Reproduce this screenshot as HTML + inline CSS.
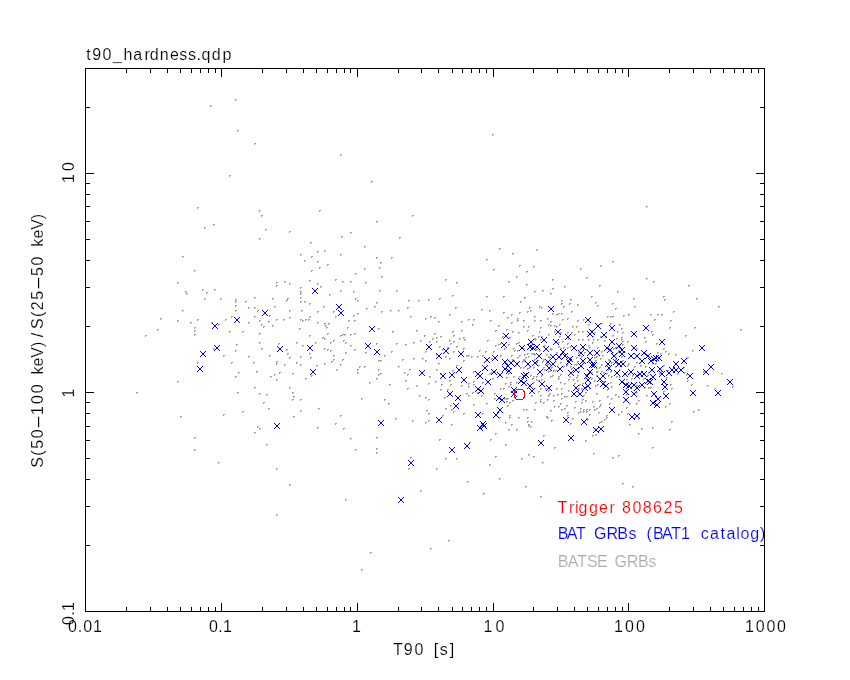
<!DOCTYPE html><html><head><meta charset="utf-8"><title>t90_hardness.qdp</title>
<style>html,body{margin:0;padding:0;background:#fff;overflow:hidden}svg{display:block}text{font-family:"Liberation Sans",sans-serif;font-size:16px;stroke:#fff;stroke-width:.15px;mix-blend-mode:multiply}</style></head><body>
<svg width="850" height="680" viewBox="0 0 850 680">
<rect width="850" height="680" fill="#fff"/>
<path d="M136 392h2v1h-1v1h-1zM145 335h2v1h-1v1h-1zM157 329h2v1h-1v1h-1zM160 318h2v1h-1v1h-1zM177 282h2v1h-1v1h-1zM177 320h2v1h-1v1h-1zM177 381h2v1h-1v1h-1zM180 416h2v1h-1v1h-1zM182 256h2v1h-1v1h-1zM182 310h2v1h-1v1h-1zM185 291h2v1h-1v1h-1zM186 293h2v1h-1v1h-1zM190 322h2v1h-1v1h-1zM194 270h2v1h-1v1h-1zM194 327h2v1h-1v1h-1zM194 330h2v1h-1v1h-1zM194 334h2v1h-1v1h-1zM194 437h2v1h-1v1h-1zM194 449h2v1h-1v1h-1zM197 207h2v1h-1v1h-1zM197 319h2v1h-1v1h-1zM197 362h2v1h-1v1h-1zM202 289h2v1h-1v1h-1zM204 227h2v1h-1v1h-1zM204 298h2v1h-1v1h-1zM206 292h2v1h-1v1h-1zM210 105h2v1h-1v1h-1zM211 322h2v1h-1v1h-1zM213 224h2v1h-1v1h-1zM213 348h2v1h-1v1h-1zM214 289h2v1h-1v1h-1zM218 324h2v1h-1v1h-1zM218 462h2v1h-1v1h-1zM220 298h2v1h-1v1h-1zM223 355h2v1h-1v1h-1zM223 414h2v1h-1v1h-1zM225 319h2v1h-1v1h-1zM229 175h2v1h-1v1h-1zM229 331h2v1h-1v1h-1zM231 316h2v1h-1v1h-1zM231 362h2v1h-1v1h-1zM235 99h2v1h-1v1h-1zM235 299h2v1h-1v1h-1zM235 301h2v1h-1v1h-1zM235 305h2v1h-1v1h-1zM235 310h2v1h-1v1h-1zM235 350h2v1h-1v1h-1zM235 376h2v1h-1v1h-1zM236 344h2v1h-1v1h-1zM237 130h2v1h-1v1h-1zM237 392h2v1h-1v1h-1zM238 372h2v1h-1v1h-1zM242 331h2v1h-1v1h-1zM242 411h2v1h-1v1h-1zM245 301h2v1h-1v1h-1zM248 307h2v1h-1v1h-1zM248 322h2v1h-1v1h-1zM248 356h2v1h-1v1h-1zM253 362h2v1h-1v1h-1zM254 143h2v1h-1v1h-1zM254 297h2v1h-1v1h-1zM254 307h2v1h-1v1h-1zM254 316h2v1h-1v1h-1zM254 387h2v1h-1v1h-1zM254 432h2v1h-1v1h-1zM256 371h2v1h-1v1h-1zM257 310h2v1h-1v1h-1zM257 426h2v1h-1v1h-1zM259 210h2v1h-1v1h-1zM259 238h2v1h-1v1h-1zM259 320h2v1h-1v1h-1zM259 333h2v1h-1v1h-1zM259 342h2v1h-1v1h-1zM259 393h2v1h-1v1h-1zM259 428h2v1h-1v1h-1zM261 215h2v1h-1v1h-1zM261 324h2v1h-1v1h-1zM261 348h2v1h-1v1h-1zM263 326h2v1h-1v1h-1zM263 402h2v1h-1v1h-1zM265 229h2v1h-1v1h-1zM266 394h2v1h-1v1h-1zM266 444h2v1h-1v1h-1zM268 321h2v1h-1v1h-1zM268 408h2v1h-1v1h-1zM269 315h2v1h-1v1h-1zM269 355h2v1h-1v1h-1zM270 376h2v1h-1v1h-1zM272 298h2v1h-1v1h-1zM272 325h2v1h-1v1h-1zM274 306h2v1h-1v1h-1zM274 374h2v1h-1v1h-1zM276 282h2v1h-1v1h-1zM276 285h2v1h-1v1h-1zM276 319h2v1h-1v1h-1zM276 361h2v1h-1v1h-1zM276 363h2v1h-1v1h-1zM276 379h2v1h-1v1h-1zM276 468h2v1h-1v1h-1zM276 514h2v1h-1v1h-1zM278 343h2v1h-1v1h-1zM279 372h2v1h-1v1h-1zM283 319h2v1h-1v1h-1zM284 281h2v1h-1v1h-1zM284 364h2v1h-1v1h-1zM286 300h2v1h-1v1h-1zM286 349h2v1h-1v1h-1zM287 298h2v1h-1v1h-1zM287 353h2v1h-1v1h-1zM289 231h2v1h-1v1h-1zM289 283h2v1h-1v1h-1zM289 310h2v1h-1v1h-1zM289 317h2v1h-1v1h-1zM289 357h2v1h-1v1h-1zM289 387h2v1h-1v1h-1zM289 484h2v1h-1v1h-1zM292 373h2v1h-1v1h-1zM292 392h2v1h-1v1h-1zM292 399h2v1h-1v1h-1zM293 396h2v1h-1v1h-1zM293 416h2v1h-1v1h-1zM296 342h2v1h-1v1h-1zM296 362h2v1h-1v1h-1zM299 328h2v1h-1v1h-1zM300 254h2v1h-1v1h-1zM300 287h2v1h-1v1h-1zM300 291h2v1h-1v1h-1zM300 293h2v1h-1v1h-1zM300 297h2v1h-1v1h-1zM300 301h2v1h-1v1h-1zM300 319h2v1h-1v1h-1zM300 356h2v1h-1v1h-1zM300 364h2v1h-1v1h-1zM300 399h2v1h-1v1h-1zM300 410h2v1h-1v1h-1zM301 310h2v1h-1v1h-1zM302 320h2v1h-1v1h-1zM302 345h2v1h-1v1h-1zM304 260h2v1h-1v1h-1zM304 301h2v1h-1v1h-1zM305 319h2v1h-1v1h-1zM305 378h2v1h-1v1h-1zM308 319h2v1h-1v1h-1zM309 280h2v1h-1v1h-1zM309 303h2v1h-1v1h-1zM309 316h2v1h-1v1h-1zM309 335h2v1h-1v1h-1zM309 353h2v1h-1v1h-1zM310 242h2v1h-1v1h-1zM310 357h2v1h-1v1h-1zM311 256h2v1h-1v1h-1zM311 270h2v1h-1v1h-1zM311 375h2v1h-1v1h-1zM315 342h2v1h-1v1h-1zM316 365h2v1h-1v1h-1zM317 251h2v1h-1v1h-1zM317 261h2v1h-1v1h-1zM317 283h2v1h-1v1h-1zM317 311h2v1h-1v1h-1zM317 322h2v1h-1v1h-1zM317 427h2v1h-1v1h-1zM318 408h2v1h-1v1h-1zM319 210h2v1h-1v1h-1zM319 267h2v1h-1v1h-1zM320 286h2v1h-1v1h-1zM322 337h2v1h-1v1h-1zM323 306h2v1h-1v1h-1zM324 250h2v1h-1v1h-1zM324 323h2v1h-1v1h-1zM324 338h2v1h-1v1h-1zM324 348h2v1h-1v1h-1zM324 363h2v1h-1v1h-1zM325 325h2v1h-1v1h-1zM326 327h2v1h-1v1h-1zM327 264h2v1h-1v1h-1zM327 333h2v1h-1v1h-1zM327 349h2v1h-1v1h-1zM328 323h2v1h-1v1h-1zM329 294h2v1h-1v1h-1zM330 342h2v1h-1v1h-1zM330 350h2v1h-1v1h-1zM331 361h2v1h-1v1h-1zM333 311h2v1h-1v1h-1zM333 340h2v1h-1v1h-1zM333 355h2v1h-1v1h-1zM333 359h2v1h-1v1h-1zM335 279h2v1h-1v1h-1zM335 316h2v1h-1v1h-1zM335 423h2v1h-1v1h-1zM336 369h2v1h-1v1h-1zM340 154h2v1h-1v1h-1zM340 254h2v1h-1v1h-1zM340 290h2v1h-1v1h-1zM340 335h2v1h-1v1h-1zM340 364h2v1h-1v1h-1zM340 415h2v1h-1v1h-1zM341 236h2v1h-1v1h-1zM342 281h2v1h-1v1h-1zM342 334h2v1h-1v1h-1zM342 359h2v1h-1v1h-1zM343 340h2v1h-1v1h-1zM343 428h2v1h-1v1h-1zM344 334h2v1h-1v1h-1zM345 342h2v1h-1v1h-1zM345 352h2v1h-1v1h-1zM345 499h2v1h-1v1h-1zM347 327h2v1h-1v1h-1zM348 320h2v1h-1v1h-1zM350 232h2v1h-1v1h-1zM350 281h2v1h-1v1h-1zM350 334h2v1h-1v1h-1zM350 345h2v1h-1v1h-1zM350 438h2v1h-1v1h-1zM353 291h2v1h-1v1h-1zM353 315h2v1h-1v1h-1zM354 320h2v1h-1v1h-1zM354 333h2v1h-1v1h-1zM354 349h2v1h-1v1h-1zM355 273h2v1h-1v1h-1zM355 298h2v1h-1v1h-1zM355 449h2v1h-1v1h-1zM357 300h2v1h-1v1h-1zM357 313h2v1h-1v1h-1zM357 369h2v1h-1v1h-1zM357 372h2v1h-1v1h-1zM359 366h2v1h-1v1h-1zM361 398h2v1h-1v1h-1zM361 569h2v1h-1v1h-1zM364 246h2v1h-1v1h-1zM364 268h2v1h-1v1h-1zM364 366h2v1h-1v1h-1zM365 282h2v1h-1v1h-1zM365 352h2v1h-1v1h-1zM366 308h2v1h-1v1h-1zM369 382h2v1h-1v1h-1zM370 552h2v1h-1v1h-1zM371 181h2v1h-1v1h-1zM374 306h2v1h-1v1h-1zM376 221h2v1h-1v1h-1zM376 257h2v1h-1v1h-1zM376 302h2v1h-1v1h-1zM376 343h2v1h-1v1h-1zM376 378h2v1h-1v1h-1zM376 437h2v1h-1v1h-1zM376 448h2v1h-1v1h-1zM376 452h2v1h-1v1h-1zM378 328h2v1h-1v1h-1zM378 360h2v1h-1v1h-1zM378 369h2v1h-1v1h-1zM378 374h2v1h-1v1h-1zM379 267h2v1h-1v1h-1zM379 290h2v1h-1v1h-1zM380 262h2v1h-1v1h-1zM380 360h2v1h-1v1h-1zM380 373h2v1h-1v1h-1zM381 276h2v1h-1v1h-1zM381 311h2v1h-1v1h-1zM384 355h2v1h-1v1h-1zM384 399h2v1h-1v1h-1zM388 403h2v1h-1v1h-1zM389 384h2v1h-1v1h-1zM390 310h2v1h-1v1h-1zM391 257h2v1h-1v1h-1zM391 351h2v1h-1v1h-1zM392 331h2v1h-1v1h-1zM395 418h2v1h-1v1h-1zM396 290h2v1h-1v1h-1zM396 343h2v1h-1v1h-1zM398 310h2v1h-1v1h-1zM398 366h2v1h-1v1h-1zM399 237h2v1h-1v1h-1zM402 359h2v1h-1v1h-1zM404 372h2v1h-1v1h-1zM405 344h2v1h-1v1h-1zM405 380h2v1h-1v1h-1zM407 307h2v1h-1v1h-1zM407 374h2v1h-1v1h-1zM407 388h2v1h-1v1h-1zM408 300h2v1h-1v1h-1zM408 468h2v1h-1v1h-1zM409 369h2v1h-1v1h-1zM410 316h2v1h-1v1h-1zM410 457h2v1h-1v1h-1zM412 215h2v1h-1v1h-1zM412 420h2v1h-1v1h-1zM413 342h2v1h-1v1h-1zM413 358h2v1h-1v1h-1zM416 330h2v1h-1v1h-1zM416 385h2v1h-1v1h-1zM418 300h2v1h-1v1h-1zM419 395h2v1h-1v1h-1zM420 340h2v1h-1v1h-1zM420 490h2v1h-1v1h-1zM422 358h2v1h-1v1h-1zM424 335h2v1h-1v1h-1zM425 318h2v1h-1v1h-1zM425 351h2v1h-1v1h-1zM425 360h2v1h-1v1h-1zM425 397h2v1h-1v1h-1zM425 422h2v1h-1v1h-1zM426 410h2v1h-1v1h-1zM428 299h2v1h-1v1h-1zM428 383h2v1h-1v1h-1zM428 399h2v1h-1v1h-1zM428 413h2v1h-1v1h-1zM428 420h2v1h-1v1h-1zM429 341h2v1h-1v1h-1zM429 376h2v1h-1v1h-1zM430 316h2v1h-1v1h-1zM430 548h2v1h-1v1h-1zM432 338h2v1h-1v1h-1zM434 317h2v1h-1v1h-1zM434 333h2v1h-1v1h-1zM435 381h2v1h-1v1h-1zM436 337h2v1h-1v1h-1zM436 341h2v1h-1v1h-1zM436 354h2v1h-1v1h-1zM436 369h2v1h-1v1h-1zM436 468h2v1h-1v1h-1zM438 321h2v1h-1v1h-1zM438 363h2v1h-1v1h-1zM439 298h2v1h-1v1h-1zM439 346h2v1h-1v1h-1zM439 439h2v1h-1v1h-1zM440 336h2v1h-1v1h-1zM440 373h2v1h-1v1h-1zM440 389h2v1h-1v1h-1zM441 384h2v1h-1v1h-1zM442 349h2v1h-1v1h-1zM442 415h2v1h-1v1h-1zM444 397h2v1h-1v1h-1zM445 279h2v1h-1v1h-1zM445 356h2v1h-1v1h-1zM445 408h2v1h-1v1h-1zM445 458h2v1h-1v1h-1zM447 347h2v1h-1v1h-1zM447 389h2v1h-1v1h-1zM448 540h2v1h-1v1h-1zM449 314h2v1h-1v1h-1zM449 340h2v1h-1v1h-1zM449 358h2v1h-1v1h-1zM449 380h2v1h-1v1h-1zM450 343h2v1h-1v1h-1zM450 384h2v1h-1v1h-1zM450 405h2v1h-1v1h-1zM451 409h2v1h-1v1h-1zM451 424h2v1h-1v1h-1zM452 295h2v1h-1v1h-1zM452 331h2v1h-1v1h-1zM452 370h2v1h-1v1h-1zM453 335h2v1h-1v1h-1zM453 341h2v1h-1v1h-1zM453 351h2v1h-1v1h-1zM453 411h2v1h-1v1h-1zM455 307h2v1h-1v1h-1zM456 282h2v1h-1v1h-1zM456 346h2v1h-1v1h-1zM456 365h2v1h-1v1h-1zM456 458h2v1h-1v1h-1zM459 338h2v1h-1v1h-1zM461 321h2v1h-1v1h-1zM461 330h2v1h-1v1h-1zM461 385h2v1h-1v1h-1zM463 337h2v1h-1v1h-1zM463 348h2v1h-1v1h-1zM463 360h2v1h-1v1h-1zM463 413h2v1h-1v1h-1zM464 339h2v1h-1v1h-1zM466 355h2v1h-1v1h-1zM466 393h2v1h-1v1h-1zM467 481h2v1h-1v1h-1zM468 319h2v1h-1v1h-1zM468 355h2v1h-1v1h-1zM468 383h2v1h-1v1h-1zM468 386h2v1h-1v1h-1zM468 395h2v1h-1v1h-1zM469 442h2v1h-1v1h-1zM471 356h2v1h-1v1h-1zM472 324h2v1h-1v1h-1zM472 392h2v1h-1v1h-1zM473 319h2v1h-1v1h-1zM473 371h2v1h-1v1h-1zM473 381h2v1h-1v1h-1zM473 384h2v1h-1v1h-1zM473 404h2v1h-1v1h-1zM477 356h2v1h-1v1h-1zM477 392h2v1h-1v1h-1zM479 350h2v1h-1v1h-1zM481 309h2v1h-1v1h-1zM481 395h2v1h-1v1h-1zM482 355h2v1h-1v1h-1zM482 382h2v1h-1v1h-1zM482 413h2v1h-1v1h-1zM483 493h2v1h-1v1h-1zM485 351h2v1h-1v1h-1zM486 259h2v1h-1v1h-1zM486 296h2v1h-1v1h-1zM486 403h2v1h-1v1h-1zM487 340h2v1h-1v1h-1zM489 310h2v1h-1v1h-1zM489 373h2v1h-1v1h-1zM489 464h2v1h-1v1h-1zM490 320h2v1h-1v1h-1zM490 439h2v1h-1v1h-1zM491 358h2v1h-1v1h-1zM491 372h2v1h-1v1h-1zM492 134h2v1h-1v1h-1zM492 378h2v1h-1v1h-1zM493 269h2v1h-1v1h-1zM493 351h2v1h-1v1h-1zM494 371h2v1h-1v1h-1zM494 393h2v1h-1v1h-1zM494 398h2v1h-1v1h-1zM495 330h2v1h-1v1h-1zM495 345h2v1h-1v1h-1zM495 433h2v1h-1v1h-1zM495 456h2v1h-1v1h-1zM498 325h2v1h-1v1h-1zM498 344h2v1h-1v1h-1zM499 248h2v1h-1v1h-1zM499 417h2v1h-1v1h-1zM499 478h2v1h-1v1h-1zM500 343h2v1h-1v1h-1zM500 355h2v1h-1v1h-1zM500 388h2v1h-1v1h-1zM502 336h2v1h-1v1h-1zM503 296h2v1h-1v1h-1zM503 312h2v1h-1v1h-1zM503 388h2v1h-1v1h-1zM504 348h2v1h-1v1h-1zM504 398h2v1h-1v1h-1zM505 383h2v1h-1v1h-1zM505 422h2v1h-1v1h-1zM505 444h2v1h-1v1h-1zM506 329h2v1h-1v1h-1zM506 366h2v1h-1v1h-1zM506 377h2v1h-1v1h-1zM506 398h2v1h-1v1h-1zM506 401h2v1h-1v1h-1zM507 317h2v1h-1v1h-1zM507 398h2v1h-1v1h-1zM507 405h2v1h-1v1h-1zM508 281h2v1h-1v1h-1zM508 344h2v1h-1v1h-1zM508 373h2v1h-1v1h-1zM508 386h2v1h-1v1h-1zM508 429h2v1h-1v1h-1zM509 337h2v1h-1v1h-1zM509 402h2v1h-1v1h-1zM509 415h2v1h-1v1h-1zM509 417h2v1h-1v1h-1zM510 382h2v1h-1v1h-1zM510 384h2v1h-1v1h-1zM511 314h2v1h-1v1h-1zM511 322h2v1h-1v1h-1zM511 355h2v1h-1v1h-1zM511 424h2v1h-1v1h-1zM512 253h2v1h-1v1h-1zM512 331h2v1h-1v1h-1zM512 359h2v1h-1v1h-1zM512 400h2v1h-1v1h-1zM513 348h2v1h-1v1h-1zM513 360h2v1h-1v1h-1zM513 376h2v1h-1v1h-1zM514 350h2v1h-1v1h-1zM516 276h2v1h-1v1h-1zM516 343h2v1h-1v1h-1zM516 382h2v1h-1v1h-1zM516 429h2v1h-1v1h-1zM517 318h2v1h-1v1h-1zM517 320h2v1h-1v1h-1zM517 350h2v1h-1v1h-1zM517 357h2v1h-1v1h-1zM517 362h2v1h-1v1h-1zM518 332h2v1h-1v1h-1zM518 342h2v1h-1v1h-1zM518 417h2v1h-1v1h-1zM519 265h2v1h-1v1h-1zM519 312h2v1h-1v1h-1zM519 355h2v1h-1v1h-1zM519 376h2v1h-1v1h-1zM520 301h2v1h-1v1h-1zM520 367h2v1h-1v1h-1zM521 458h2v1h-1v1h-1zM522 361h2v1h-1v1h-1zM523 320h2v1h-1v1h-1zM523 326h2v1h-1v1h-1zM523 348h2v1h-1v1h-1zM523 359h2v1h-1v1h-1zM523 367h2v1h-1v1h-1zM523 397h2v1h-1v1h-1zM523 409h2v1h-1v1h-1zM524 297h2v1h-1v1h-1zM524 354h2v1h-1v1h-1zM524 360h2v1h-1v1h-1zM525 357h2v1h-1v1h-1zM525 486h2v1h-1v1h-1zM526 271h2v1h-1v1h-1zM526 284h2v1h-1v1h-1zM526 409h2v1h-1v1h-1zM527 311h2v1h-1v1h-1zM527 330h2v1h-1v1h-1zM527 353h2v1h-1v1h-1zM527 368h2v1h-1v1h-1zM527 417h2v1h-1v1h-1zM527 421h2v1h-1v1h-1zM528 326h2v1h-1v1h-1zM528 343h2v1h-1v1h-1zM528 356h2v1h-1v1h-1zM528 424h2v1h-1v1h-1zM528 425h2v1h-1v1h-1zM528 454h2v1h-1v1h-1zM529 307h2v1h-1v1h-1zM529 367h2v1h-1v1h-1zM530 310h2v1h-1v1h-1zM530 375h2v1h-1v1h-1zM530 426h2v1h-1v1h-1zM531 353h2v1h-1v1h-1zM531 395h2v1h-1v1h-1zM531 421h2v1h-1v1h-1zM532 335h2v1h-1v1h-1zM532 378h2v1h-1v1h-1zM533 266h2v1h-1v1h-1zM533 353h2v1h-1v1h-1zM533 367h2v1h-1v1h-1zM533 376h2v1h-1v1h-1zM533 382h2v1h-1v1h-1zM533 456h2v1h-1v1h-1zM534 291h2v1h-1v1h-1zM534 316h2v1h-1v1h-1zM534 320h2v1h-1v1h-1zM534 338h2v1h-1v1h-1zM534 354h2v1h-1v1h-1zM534 359h2v1h-1v1h-1zM534 409h2v1h-1v1h-1zM535 339h2v1h-1v1h-1zM535 402h2v1h-1v1h-1zM536 249h2v1h-1v1h-1zM536 349h2v1h-1v1h-1zM536 362h2v1h-1v1h-1zM536 376h2v1h-1v1h-1zM536 379h2v1h-1v1h-1zM537 360h2v1h-1v1h-1zM538 336h2v1h-1v1h-1zM538 365h2v1h-1v1h-1zM538 380h2v1h-1v1h-1zM538 391h2v1h-1v1h-1zM539 306h2v1h-1v1h-1zM539 331h2v1h-1v1h-1zM539 350h2v1h-1v1h-1zM540 320h2v1h-1v1h-1zM540 327h2v1h-1v1h-1zM540 339h2v1h-1v1h-1zM540 388h2v1h-1v1h-1zM540 395h2v1h-1v1h-1zM540 399h2v1h-1v1h-1zM540 401h2v1h-1v1h-1zM540 496h2v1h-1v1h-1zM541 307h2v1h-1v1h-1zM541 336h2v1h-1v1h-1zM541 375h2v1h-1v1h-1zM541 379h2v1h-1v1h-1zM542 290h2v1h-1v1h-1zM542 361h2v1h-1v1h-1zM542 462h2v1h-1v1h-1zM543 359h2v1h-1v1h-1zM543 367h2v1h-1v1h-1zM543 402h2v1h-1v1h-1zM543 435h2v1h-1v1h-1zM544 345h2v1h-1v1h-1zM544 369h2v1h-1v1h-1zM545 388h2v1h-1v1h-1zM546 354h2v1h-1v1h-1zM546 362h2v1h-1v1h-1zM546 416h2v1h-1v1h-1zM547 318h2v1h-1v1h-1zM547 364h2v1h-1v1h-1zM547 399h2v1h-1v1h-1zM547 417h2v1h-1v1h-1zM548 324h2v1h-1v1h-1zM548 334h2v1h-1v1h-1zM548 356h2v1h-1v1h-1zM548 371h2v1h-1v1h-1zM548 390h2v1h-1v1h-1zM548 395h2v1h-1v1h-1zM549 357h2v1h-1v1h-1zM549 393h2v1h-1v1h-1zM550 293h2v1h-1v1h-1zM550 321h2v1h-1v1h-1zM550 325h2v1h-1v1h-1zM550 348h2v1h-1v1h-1zM550 370h2v1h-1v1h-1zM550 376h2v1h-1v1h-1zM550 410h2v1h-1v1h-1zM551 349h2v1h-1v1h-1zM551 367h2v1h-1v1h-1zM551 420h2v1h-1v1h-1zM552 279h2v1h-1v1h-1zM552 288h2v1h-1v1h-1zM552 313h2v1h-1v1h-1zM552 375h2v1h-1v1h-1zM553 370h2v1h-1v1h-1zM553 395h2v1h-1v1h-1zM553 400h2v1h-1v1h-1zM554 325h2v1h-1v1h-1zM554 331h2v1h-1v1h-1zM554 406h2v1h-1v1h-1zM554 447h2v1h-1v1h-1zM555 359h2v1h-1v1h-1zM555 370h2v1h-1v1h-1zM556 314h2v1h-1v1h-1zM556 326h2v1h-1v1h-1zM556 352h2v1h-1v1h-1zM556 388h2v1h-1v1h-1zM557 370h2v1h-1v1h-1zM557 394h2v1h-1v1h-1zM558 313h2v1h-1v1h-1zM558 342h2v1h-1v1h-1zM558 346h2v1h-1v1h-1zM558 376h2v1h-1v1h-1zM558 378h2v1h-1v1h-1zM558 406h2v1h-1v1h-1zM559 324h2v1h-1v1h-1zM559 336h2v1h-1v1h-1zM560 332h2v1h-1v1h-1zM560 348h2v1h-1v1h-1zM560 354h2v1h-1v1h-1zM560 362h2v1h-1v1h-1zM560 374h2v1h-1v1h-1zM560 382h2v1h-1v1h-1zM560 403h2v1h-1v1h-1zM561 300h2v1h-1v1h-1zM561 303h2v1h-1v1h-1zM561 313h2v1h-1v1h-1zM561 388h2v1h-1v1h-1zM561 393h2v1h-1v1h-1zM561 398h2v1h-1v1h-1zM561 409h2v1h-1v1h-1zM562 319h2v1h-1v1h-1zM562 341h2v1h-1v1h-1zM563 306h2v1h-1v1h-1zM563 347h2v1h-1v1h-1zM563 366h2v1h-1v1h-1zM564 286h2v1h-1v1h-1zM564 383h2v1h-1v1h-1zM564 396h2v1h-1v1h-1zM564 408h2v1h-1v1h-1zM566 364h2v1h-1v1h-1zM566 365h2v1h-1v1h-1zM566 396h2v1h-1v1h-1zM566 405h2v1h-1v1h-1zM567 318h2v1h-1v1h-1zM567 332h2v1h-1v1h-1zM567 343h2v1h-1v1h-1zM567 347h2v1h-1v1h-1zM567 412h2v1h-1v1h-1zM567 415h2v1h-1v1h-1zM568 338h2v1h-1v1h-1zM568 379h2v1h-1v1h-1zM568 390h2v1h-1v1h-1zM569 303h2v1h-1v1h-1zM569 376h2v1h-1v1h-1zM570 299h2v1h-1v1h-1zM570 346h2v1h-1v1h-1zM570 357h2v1h-1v1h-1zM570 366h2v1h-1v1h-1zM570 423h2v1h-1v1h-1zM571 311h2v1h-1v1h-1zM571 332h2v1h-1v1h-1zM571 368h2v1h-1v1h-1zM572 326h2v1h-1v1h-1zM572 418h2v1h-1v1h-1zM573 379h2v1h-1v1h-1zM574 334h2v1h-1v1h-1zM574 364h2v1h-1v1h-1zM574 383h2v1h-1v1h-1zM574 407h2v1h-1v1h-1zM575 401h2v1h-1v1h-1zM576 326h2v1h-1v1h-1zM576 357h2v1h-1v1h-1zM576 364h2v1h-1v1h-1zM576 377h2v1h-1v1h-1zM577 304h2v1h-1v1h-1zM577 320h2v1h-1v1h-1zM577 361h2v1h-1v1h-1zM577 375h2v1h-1v1h-1zM577 380h2v1h-1v1h-1zM578 331h2v1h-1v1h-1zM578 339h2v1h-1v1h-1zM578 352h2v1h-1v1h-1zM578 371h2v1h-1v1h-1zM578 388h2v1h-1v1h-1zM578 412h2v1h-1v1h-1zM579 355h2v1h-1v1h-1zM579 384h2v1h-1v1h-1zM580 268h2v1h-1v1h-1zM580 408h2v1h-1v1h-1zM580 411h2v1h-1v1h-1zM581 356h2v1h-1v1h-1zM581 388h2v1h-1v1h-1zM581 402h2v1h-1v1h-1zM582 331h2v1h-1v1h-1zM582 339h2v1h-1v1h-1zM582 361h2v1h-1v1h-1zM582 383h2v1h-1v1h-1zM582 399h2v1h-1v1h-1zM583 319h2v1h-1v1h-1zM583 348h2v1h-1v1h-1zM583 395h2v1h-1v1h-1zM583 409h2v1h-1v1h-1zM583 411h2v1h-1v1h-1zM584 352h2v1h-1v1h-1zM585 374h2v1h-1v1h-1zM585 392h2v1h-1v1h-1zM585 400h2v1h-1v1h-1zM585 440h2v1h-1v1h-1zM586 277h2v1h-1v1h-1zM586 349h2v1h-1v1h-1zM586 409h2v1h-1v1h-1zM586 411h2v1h-1v1h-1zM586 418h2v1h-1v1h-1zM587 419h2v1h-1v1h-1zM588 324h2v1h-1v1h-1zM588 339h2v1h-1v1h-1zM588 345h2v1h-1v1h-1zM589 347h2v1h-1v1h-1zM589 383h2v1h-1v1h-1zM589 388h2v1h-1v1h-1zM589 409h2v1h-1v1h-1zM589 414h2v1h-1v1h-1zM591 296h2v1h-1v1h-1zM591 330h2v1h-1v1h-1zM591 372h2v1h-1v1h-1zM591 378h2v1h-1v1h-1zM592 336h2v1h-1v1h-1zM592 342h2v1h-1v1h-1zM592 401h2v1h-1v1h-1zM592 435h2v1h-1v1h-1zM593 339h2v1h-1v1h-1zM593 406h2v1h-1v1h-1zM593 453h2v1h-1v1h-1zM594 332h2v1h-1v1h-1zM594 357h2v1h-1v1h-1zM594 380h2v1h-1v1h-1zM594 409h2v1h-1v1h-1zM595 302h2v1h-1v1h-1zM595 360h2v1h-1v1h-1zM595 385h2v1h-1v1h-1zM595 434h2v1h-1v1h-1zM596 356h2v1h-1v1h-1zM596 368h2v1h-1v1h-1zM596 371h2v1h-1v1h-1zM596 375h2v1h-1v1h-1zM596 393h2v1h-1v1h-1zM596 408h2v1h-1v1h-1zM597 305h2v1h-1v1h-1zM597 339h2v1h-1v1h-1zM597 347h2v1h-1v1h-1zM597 371h2v1h-1v1h-1zM597 384h2v1h-1v1h-1zM598 412h2v1h-1v1h-1zM599 285h2v1h-1v1h-1zM599 367h2v1h-1v1h-1zM599 400h2v1h-1v1h-1zM599 406h2v1h-1v1h-1zM599 422h2v1h-1v1h-1zM600 265h2v1h-1v1h-1zM600 336h2v1h-1v1h-1zM600 358h2v1h-1v1h-1zM600 404h2v1h-1v1h-1zM601 323h2v1h-1v1h-1zM601 351h2v1h-1v1h-1zM601 364h2v1h-1v1h-1zM601 371h2v1h-1v1h-1zM601 421h2v1h-1v1h-1zM602 355h2v1h-1v1h-1zM603 372h2v1h-1v1h-1zM603 381h2v1h-1v1h-1zM604 340h2v1h-1v1h-1zM604 419h2v1h-1v1h-1zM605 336h2v1h-1v1h-1zM606 373h2v1h-1v1h-1zM606 415h2v1h-1v1h-1zM606 417h2v1h-1v1h-1zM607 316h2v1h-1v1h-1zM607 389h2v1h-1v1h-1zM607 396h2v1h-1v1h-1zM608 359h2v1h-1v1h-1zM608 369h2v1h-1v1h-1zM608 375h2v1h-1v1h-1zM609 360h2v1h-1v1h-1zM609 403h2v1h-1v1h-1zM610 316h2v1h-1v1h-1zM610 323h2v1h-1v1h-1zM610 350h2v1h-1v1h-1zM610 371h2v1h-1v1h-1zM610 382h2v1h-1v1h-1zM611 362h2v1h-1v1h-1zM611 376h2v1h-1v1h-1zM611 386h2v1h-1v1h-1zM611 398h2v1h-1v1h-1zM612 261h2v1h-1v1h-1zM612 303h2v1h-1v1h-1zM612 316h2v1h-1v1h-1zM612 335h2v1h-1v1h-1zM612 352h2v1h-1v1h-1zM612 457h2v1h-1v1h-1zM613 348h2v1h-1v1h-1zM615 308h2v1h-1v1h-1zM615 347h2v1h-1v1h-1zM615 354h2v1h-1v1h-1zM615 359h2v1h-1v1h-1zM615 366h2v1h-1v1h-1zM615 394h2v1h-1v1h-1zM616 338h2v1h-1v1h-1zM616 376h2v1h-1v1h-1zM617 291h2v1h-1v1h-1zM617 331h2v1h-1v1h-1zM617 352h2v1h-1v1h-1zM617 364h2v1h-1v1h-1zM618 350h2v1h-1v1h-1zM618 396h2v1h-1v1h-1zM618 414h2v1h-1v1h-1zM618 455h2v1h-1v1h-1zM619 324h2v1h-1v1h-1zM619 369h2v1h-1v1h-1zM619 376h2v1h-1v1h-1zM621 328h2v1h-1v1h-1zM621 337h2v1h-1v1h-1zM621 339h2v1h-1v1h-1zM621 356h2v1h-1v1h-1zM621 381h2v1h-1v1h-1zM621 411h2v1h-1v1h-1zM622 332h2v1h-1v1h-1zM622 341h2v1h-1v1h-1zM622 344h2v1h-1v1h-1zM622 360h2v1h-1v1h-1zM622 483h2v1h-1v1h-1zM623 315h2v1h-1v1h-1zM626 379h2v1h-1v1h-1zM626 394h2v1h-1v1h-1zM626 407h2v1h-1v1h-1zM627 341h2v1h-1v1h-1zM627 365h2v1h-1v1h-1zM627 413h2v1h-1v1h-1zM628 314h2v1h-1v1h-1zM628 363h2v1h-1v1h-1zM629 403h2v1h-1v1h-1zM629 424h2v1h-1v1h-1zM630 387h2v1h-1v1h-1zM631 378h2v1h-1v1h-1zM632 375h2v1h-1v1h-1zM632 486h2v1h-1v1h-1zM633 298h2v1h-1v1h-1zM634 306h2v1h-1v1h-1zM634 366h2v1h-1v1h-1zM636 348h2v1h-1v1h-1zM636 362h2v1h-1v1h-1zM636 385h2v1h-1v1h-1zM636 392h2v1h-1v1h-1zM636 403h2v1h-1v1h-1zM638 400h2v1h-1v1h-1zM638 418h2v1h-1v1h-1zM638 433h2v1h-1v1h-1zM639 358h2v1h-1v1h-1zM640 365h2v1h-1v1h-1zM641 428h2v1h-1v1h-1zM643 378h2v1h-1v1h-1zM644 337h2v1h-1v1h-1zM644 387h2v1h-1v1h-1zM645 341h2v1h-1v1h-1zM645 366h2v1h-1v1h-1zM646 206h2v1h-1v1h-1zM646 278h2v1h-1v1h-1zM646 395h2v1h-1v1h-1zM647 375h2v1h-1v1h-1zM648 372h2v1h-1v1h-1zM648 387h2v1h-1v1h-1zM650 314h2v1h-1v1h-1zM650 387h2v1h-1v1h-1zM651 331h2v1h-1v1h-1zM652 334h2v1h-1v1h-1zM652 363h2v1h-1v1h-1zM652 427h2v1h-1v1h-1zM652 447h2v1h-1v1h-1zM653 281h2v1h-1v1h-1zM654 319h2v1h-1v1h-1zM655 363h2v1h-1v1h-1zM656 343h2v1h-1v1h-1zM657 314h2v1h-1v1h-1zM657 352h2v1h-1v1h-1zM659 373h2v1h-1v1h-1zM660 353h2v1h-1v1h-1zM661 314h2v1h-1v1h-1zM661 371h2v1h-1v1h-1zM663 296h2v1h-1v1h-1zM663 348h2v1h-1v1h-1zM663 365h2v1h-1v1h-1zM663 391h2v1h-1v1h-1zM664 299h2v1h-1v1h-1zM665 351h2v1h-1v1h-1zM665 406h2v1h-1v1h-1zM666 377h2v1h-1v1h-1zM667 370h2v1h-1v1h-1zM668 353h2v1h-1v1h-1zM669 327h2v1h-1v1h-1zM669 403h2v1h-1v1h-1zM669 429h2v1h-1v1h-1zM670 320h2v1h-1v1h-1zM670 384h2v1h-1v1h-1zM671 388h2v1h-1v1h-1zM671 421h2v1h-1v1h-1zM673 311h2v1h-1v1h-1zM675 354h2v1h-1v1h-1zM677 373h2v1h-1v1h-1zM683 367h2v1h-1v1h-1zM684 372h2v1h-1v1h-1zM685 335h2v1h-1v1h-1zM686 374h2v1h-1v1h-1zM687 357h2v1h-1v1h-1zM687 380h2v1h-1v1h-1zM688 285h2v1h-1v1h-1zM691 384h2v1h-1v1h-1zM692 350h2v1h-1v1h-1zM693 411h2v1h-1v1h-1zM694 327h2v1h-1v1h-1zM696 298h2v1h-1v1h-1zM698 409h2v1h-1v1h-1zM703 371h2v1h-1v1h-1zM707 385h2v1h-1v1h-1zM714 388h2v1h-1v1h-1zM718 306h2v1h-1v1h-1zM721 373h2v1h-1v1h-1zM732 386h2v1h-1v1h-1zM740 329h2v1h-1v1h-1z" fill="#a4a4a4" shape-rendering="crispEdges"/>
<path d="M197 366h1v1h-1zM197 371h1v1h-1zM198 367h1v1h-1zM198 370h1v1h-1zM199 368h1v1h-1zM199 369h1v1h-1zM200 351h1v1h-1zM200 356h1v1h-1zM200 368h1v1h-1zM200 369h1v1h-1zM201 352h1v1h-1zM201 355h1v1h-1zM201 367h1v1h-1zM201 370h1v1h-1zM202 353h1v1h-1zM202 354h1v1h-1zM202 366h1v1h-1zM202 371h1v1h-1zM203 353h1v1h-1zM203 354h1v1h-1zM204 352h1v1h-1zM204 355h1v1h-1zM205 351h1v1h-1zM205 356h1v1h-1zM212 323h1v1h-1zM212 328h1v1h-1zM213 324h1v1h-1zM213 327h1v1h-1zM214 325h1v1h-1zM214 326h1v1h-1zM214 345h1v1h-1zM214 350h1v1h-1zM215 325h1v1h-1zM215 326h1v1h-1zM215 346h1v1h-1zM215 349h1v1h-1zM216 324h1v1h-1zM216 327h1v1h-1zM216 347h1v1h-1zM216 348h1v1h-1zM217 323h1v1h-1zM217 328h1v1h-1zM217 347h1v1h-1zM217 348h1v1h-1zM218 346h1v1h-1zM218 349h1v1h-1zM219 345h1v1h-1zM219 350h1v1h-1zM234 317h1v1h-1zM234 322h1v1h-1zM235 318h1v1h-1zM235 321h1v1h-1zM236 319h1v1h-1zM236 320h1v1h-1zM237 319h1v1h-1zM237 320h1v1h-1zM238 318h1v1h-1zM238 321h1v1h-1zM239 317h1v1h-1zM239 322h1v1h-1zM262 310h1v1h-1zM262 315h1v1h-1zM263 311h1v1h-1zM263 314h1v1h-1zM264 312h1v1h-1zM264 313h1v1h-1zM265 312h1v1h-1zM265 313h1v1h-1zM266 311h1v1h-1zM266 314h1v1h-1zM267 310h1v1h-1zM267 315h1v1h-1zM274 423h1v1h-1zM274 428h1v1h-1zM275 424h1v1h-1zM275 427h1v1h-1zM276 425h1v1h-1zM276 426h1v1h-1zM277 346h1v1h-1zM277 351h1v1h-1zM277 425h1v1h-1zM277 426h1v1h-1zM278 347h1v1h-1zM278 350h1v1h-1zM278 424h1v1h-1zM278 427h1v1h-1zM279 348h1v1h-1zM279 349h1v1h-1zM279 423h1v1h-1zM279 428h1v1h-1zM280 348h1v1h-1zM280 349h1v1h-1zM281 347h1v1h-1zM281 350h1v1h-1zM282 346h1v1h-1zM282 351h1v1h-1zM307 345h1v1h-1zM307 350h1v1h-1zM308 346h1v1h-1zM308 349h1v1h-1zM309 347h1v1h-1zM309 348h1v1h-1zM310 347h1v1h-1zM310 348h1v1h-1zM310 369h1v1h-1zM310 374h1v1h-1zM311 346h1v1h-1zM311 349h1v1h-1zM311 370h1v1h-1zM311 373h1v1h-1zM312 288h1v1h-1zM312 293h1v1h-1zM312 345h1v1h-1zM312 350h1v1h-1zM312 371h1v1h-1zM312 372h1v1h-1zM313 289h1v1h-1zM313 292h1v1h-1zM313 371h1v1h-1zM313 372h1v1h-1zM314 290h1v1h-1zM314 291h1v1h-1zM314 370h1v1h-1zM314 373h1v1h-1zM315 290h1v1h-1zM315 291h1v1h-1zM315 369h1v1h-1zM315 374h1v1h-1zM316 289h1v1h-1zM316 292h1v1h-1zM317 288h1v1h-1zM317 293h1v1h-1zM336 304h1v1h-1zM336 309h1v1h-1zM337 305h1v1h-1zM337 308h1v1h-1zM338 306h1v1h-1zM338 307h1v1h-1zM338 310h1v1h-1zM338 315h1v1h-1zM339 306h1v1h-1zM339 307h1v1h-1zM339 311h1v1h-1zM339 314h1v1h-1zM340 305h1v1h-1zM340 308h1v1h-1zM340 312h1v1h-1zM340 313h1v1h-1zM341 304h1v1h-1zM341 309h1v1h-1zM341 312h1v1h-1zM341 313h1v1h-1zM342 311h1v1h-1zM342 314h1v1h-1zM343 310h1v1h-1zM343 315h1v1h-1zM365 343h1v1h-1zM365 348h1v1h-1zM366 344h1v1h-1zM366 347h1v1h-1zM367 345h1v1h-1zM367 346h1v1h-1zM368 345h1v1h-1zM368 346h1v1h-1zM369 326h1v1h-1zM369 331h1v1h-1zM369 344h1v1h-1zM369 347h1v1h-1zM370 327h1v1h-1zM370 330h1v1h-1zM370 343h1v1h-1zM370 348h1v1h-1zM371 328h1v1h-1zM371 329h1v1h-1zM372 328h1v1h-1zM372 329h1v1h-1zM373 327h1v1h-1zM373 330h1v1h-1zM374 326h1v1h-1zM374 331h1v1h-1zM374 349h1v1h-1zM374 354h1v1h-1zM375 350h1v1h-1zM375 353h1v1h-1zM376 351h1v1h-1zM376 352h1v1h-1zM377 351h1v1h-1zM377 352h1v1h-1zM378 350h1v1h-1zM378 353h1v1h-1zM378 420h1v1h-1zM378 425h1v1h-1zM379 349h1v1h-1zM379 354h1v1h-1zM379 421h1v1h-1zM379 424h1v1h-1zM380 422h1v1h-1zM380 423h1v1h-1zM381 422h1v1h-1zM381 423h1v1h-1zM382 421h1v1h-1zM382 424h1v1h-1zM383 420h1v1h-1zM383 425h1v1h-1zM398 497h1v1h-1zM398 502h1v1h-1zM399 498h1v1h-1zM399 501h1v1h-1zM400 499h1v1h-1zM400 500h1v1h-1zM401 499h1v1h-1zM401 500h1v1h-1zM402 498h1v1h-1zM402 501h1v1h-1zM403 497h1v1h-1zM403 502h1v1h-1zM408 460h1v1h-1zM408 465h1v1h-1zM409 461h1v1h-1zM409 464h1v1h-1zM410 462h1v1h-1zM410 463h1v1h-1zM411 462h1v1h-1zM411 463h1v1h-1zM412 461h1v1h-1zM412 464h1v1h-1zM413 460h1v1h-1zM413 465h1v1h-1zM419 370h1v1h-1zM419 375h1v1h-1zM420 371h1v1h-1zM420 374h1v1h-1zM421 372h1v1h-1zM421 373h1v1h-1zM422 372h1v1h-1zM422 373h1v1h-1zM423 371h1v1h-1zM423 374h1v1h-1zM424 370h1v1h-1zM424 375h1v1h-1zM426 344h1v1h-1zM426 349h1v1h-1zM427 345h1v1h-1zM427 348h1v1h-1zM428 346h1v1h-1zM428 347h1v1h-1zM429 346h1v1h-1zM429 347h1v1h-1zM430 345h1v1h-1zM430 348h1v1h-1zM431 344h1v1h-1zM431 349h1v1h-1zM436 353h1v1h-1zM436 358h1v1h-1zM436 417h1v1h-1zM436 422h1v1h-1zM437 354h1v1h-1zM437 357h1v1h-1zM437 418h1v1h-1zM437 421h1v1h-1zM438 355h1v1h-1zM438 356h1v1h-1zM438 419h1v1h-1zM438 420h1v1h-1zM439 355h1v1h-1zM439 356h1v1h-1zM439 419h1v1h-1zM439 420h1v1h-1zM440 354h1v1h-1zM440 357h1v1h-1zM440 373h1v1h-1zM440 378h1v1h-1zM440 418h1v1h-1zM440 421h1v1h-1zM441 353h1v1h-1zM441 358h1v1h-1zM441 374h1v1h-1zM441 377h1v1h-1zM441 417h1v1h-1zM441 422h1v1h-1zM442 375h1v1h-1zM442 376h1v1h-1zM443 348h1v1h-1zM443 353h1v1h-1zM443 375h1v1h-1zM443 376h1v1h-1zM444 349h1v1h-1zM444 352h1v1h-1zM444 374h1v1h-1zM444 377h1v1h-1zM445 350h1v1h-1zM445 351h1v1h-1zM445 373h1v1h-1zM445 378h1v1h-1zM446 350h1v1h-1zM446 351h1v1h-1zM447 349h1v1h-1zM447 352h1v1h-1zM447 391h1v1h-1zM447 396h1v1h-1zM448 348h1v1h-1zM448 353h1v1h-1zM448 392h1v1h-1zM448 395h1v1h-1zM449 372h1v1h-1zM449 377h1v1h-1zM449 393h1v1h-1zM449 394h1v1h-1zM449 447h1v1h-1zM449 452h1v1h-1zM450 373h1v1h-1zM450 376h1v1h-1zM450 393h1v1h-1zM450 394h1v1h-1zM450 448h1v1h-1zM450 451h1v1h-1zM451 374h1v1h-1zM451 375h1v1h-1zM451 392h1v1h-1zM451 395h1v1h-1zM451 449h1v1h-1zM451 450h1v1h-1zM452 374h1v1h-1zM452 375h1v1h-1zM452 391h1v1h-1zM452 396h1v1h-1zM452 449h1v1h-1zM452 450h1v1h-1zM453 373h1v1h-1zM453 376h1v1h-1zM453 403h1v1h-1zM453 408h1v1h-1zM453 448h1v1h-1zM453 451h1v1h-1zM454 372h1v1h-1zM454 377h1v1h-1zM454 404h1v1h-1zM454 407h1v1h-1zM454 447h1v1h-1zM454 452h1v1h-1zM455 395h1v1h-1zM455 400h1v1h-1zM455 405h1v1h-1zM455 406h1v1h-1zM456 367h1v1h-1zM456 372h1v1h-1zM456 396h1v1h-1zM456 399h1v1h-1zM456 405h1v1h-1zM456 406h1v1h-1zM457 368h1v1h-1zM457 371h1v1h-1zM457 397h1v1h-1zM457 398h1v1h-1zM457 404h1v1h-1zM457 407h1v1h-1zM458 351h1v1h-1zM458 356h1v1h-1zM458 369h1v1h-1zM458 370h1v1h-1zM458 397h1v1h-1zM458 398h1v1h-1zM458 403h1v1h-1zM458 408h1v1h-1zM459 352h1v1h-1zM459 355h1v1h-1zM459 369h1v1h-1zM459 370h1v1h-1zM459 396h1v1h-1zM459 399h1v1h-1zM460 353h1v1h-1zM460 354h1v1h-1zM460 368h1v1h-1zM460 371h1v1h-1zM460 395h1v1h-1zM460 400h1v1h-1zM461 353h1v1h-1zM461 354h1v1h-1zM461 367h1v1h-1zM461 372h1v1h-1zM461 377h1v1h-1zM461 382h1v1h-1zM462 352h1v1h-1zM462 355h1v1h-1zM462 378h1v1h-1zM462 381h1v1h-1zM463 351h1v1h-1zM463 356h1v1h-1zM463 379h1v1h-1zM463 380h1v1h-1zM464 379h1v1h-1zM464 380h1v1h-1zM464 443h1v1h-1zM464 448h1v1h-1zM465 378h1v1h-1zM465 381h1v1h-1zM465 444h1v1h-1zM465 447h1v1h-1zM466 377h1v1h-1zM466 382h1v1h-1zM466 445h1v1h-1zM466 446h1v1h-1zM467 445h1v1h-1zM467 446h1v1h-1zM468 444h1v1h-1zM468 447h1v1h-1zM469 443h1v1h-1zM469 448h1v1h-1zM475 371h1v1h-1zM475 376h1v1h-1zM475 386h1v1h-1zM475 391h1v1h-1zM475 412h1v1h-1zM475 417h1v1h-1zM476 372h1v1h-1zM476 375h1v1h-1zM476 387h1v1h-1zM476 390h1v1h-1zM476 413h1v1h-1zM476 416h1v1h-1zM477 373h1v1h-1zM477 374h1v1h-1zM477 378h1v1h-1zM477 388h1v1h-1zM477 389h1v1h-1zM477 414h1v1h-1zM477 415h1v1h-1zM477 425h1v1h-1zM477 430h1v1h-1zM478 373h1v1h-1zM478 374h1v1h-1zM478 377h1v1h-1zM478 388h1v1h-1zM478 389h1v1h-1zM478 393h1v1h-1zM478 414h1v1h-1zM478 415h1v1h-1zM478 426h1v1h-1zM478 429h1v1h-1zM479 372h1v1h-1zM479 375h1v1h-1zM479 376h1v1h-1zM479 387h1v1h-1zM479 389h1v1h-1zM479 390h1v1h-1zM479 392h1v1h-1zM479 413h1v1h-1zM479 416h1v1h-1zM479 427h1v1h-1zM479 428h1v1h-1zM480 371h1v1h-1zM480 375h1v1h-1zM480 376h1v1h-1zM480 386h1v1h-1zM480 390h1v1h-1zM480 391h1v1h-1zM480 412h1v1h-1zM480 417h1v1h-1zM480 421h1v1h-1zM480 426h1v1h-1zM480 427h1v1h-1zM480 428h1v1h-1zM481 374h1v1h-1zM481 377h1v1h-1zM481 390h1v1h-1zM481 391h1v1h-1zM481 422h1v1h-1zM481 423h1v1h-1zM481 425h1v1h-1zM481 426h1v1h-1zM481 428h1v1h-1zM481 429h1v1h-1zM482 365h1v1h-1zM482 370h1v1h-1zM482 373h1v1h-1zM482 378h1v1h-1zM482 389h1v1h-1zM482 392h1v1h-1zM482 423h1v1h-1zM482 424h1v1h-1zM482 425h1v1h-1zM482 427h1v1h-1zM482 430h1v1h-1zM483 366h1v1h-1zM483 369h1v1h-1zM483 388h1v1h-1zM483 393h1v1h-1zM483 423h1v1h-1zM483 424h1v1h-1zM483 425h1v1h-1zM483 426h1v1h-1zM484 357h1v1h-1zM484 362h1v1h-1zM484 367h1v1h-1zM484 368h1v1h-1zM484 422h1v1h-1zM484 425h1v1h-1zM484 426h1v1h-1zM485 358h1v1h-1zM485 361h1v1h-1zM485 367h1v1h-1zM485 368h1v1h-1zM485 379h1v1h-1zM485 384h1v1h-1zM485 421h1v1h-1zM485 424h1v1h-1zM485 426h1v1h-1zM485 427h1v1h-1zM486 359h1v1h-1zM486 360h1v1h-1zM486 366h1v1h-1zM486 369h1v1h-1zM486 380h1v1h-1zM486 383h1v1h-1zM486 423h1v1h-1zM486 428h1v1h-1zM487 359h1v1h-1zM487 360h1v1h-1zM487 365h1v1h-1zM487 370h1v1h-1zM487 381h1v1h-1zM487 382h1v1h-1zM488 358h1v1h-1zM488 361h1v1h-1zM488 381h1v1h-1zM488 382h1v1h-1zM489 357h1v1h-1zM489 362h1v1h-1zM489 380h1v1h-1zM489 383h1v1h-1zM490 379h1v1h-1zM490 384h1v1h-1zM491 369h1v1h-1zM491 374h1v1h-1zM492 355h1v1h-1zM492 360h1v1h-1zM492 370h1v1h-1zM492 373h1v1h-1zM493 356h1v1h-1zM493 359h1v1h-1zM493 371h1v1h-1zM493 372h1v1h-1zM493 412h1v1h-1zM493 417h1v1h-1zM494 357h1v1h-1zM494 358h1v1h-1zM494 371h1v1h-1zM494 372h1v1h-1zM494 413h1v1h-1zM494 416h1v1h-1zM495 357h1v1h-1zM495 358h1v1h-1zM495 370h1v1h-1zM495 373h1v1h-1zM495 414h1v1h-1zM495 415h1v1h-1zM496 356h1v1h-1zM496 359h1v1h-1zM496 369h1v1h-1zM496 374h1v1h-1zM496 395h1v1h-1zM496 400h1v1h-1zM496 414h1v1h-1zM496 415h1v1h-1zM497 355h1v1h-1zM497 360h1v1h-1zM497 372h1v1h-1zM497 377h1v1h-1zM497 396h1v1h-1zM497 399h1v1h-1zM497 407h1v1h-1zM497 412h1v1h-1zM497 413h1v1h-1zM497 416h1v1h-1zM498 373h1v1h-1zM498 376h1v1h-1zM498 397h1v1h-1zM498 398h1v1h-1zM498 408h1v1h-1zM498 411h1v1h-1zM498 412h1v1h-1zM498 417h1v1h-1zM499 374h1v1h-1zM499 375h1v1h-1zM499 397h1v1h-1zM499 398h1v1h-1zM499 402h1v1h-1zM499 409h1v1h-1zM499 410h1v1h-1zM500 374h1v1h-1zM500 375h1v1h-1zM500 396h1v1h-1zM500 398h1v1h-1zM500 399h1v1h-1zM500 401h1v1h-1zM500 409h1v1h-1zM500 410h1v1h-1zM501 342h1v1h-1zM501 347h1v1h-1zM501 373h1v1h-1zM501 376h1v1h-1zM501 395h1v1h-1zM501 399h1v1h-1zM501 400h1v1h-1zM501 408h1v1h-1zM501 411h1v1h-1zM502 343h1v1h-1zM502 346h1v1h-1zM502 359h1v1h-1zM502 364h1v1h-1zM502 366h1v1h-1zM502 371h1v1h-1zM502 372h1v1h-1zM502 377h1v1h-1zM502 399h1v1h-1zM502 400h1v1h-1zM502 407h1v1h-1zM502 412h1v1h-1zM503 333h1v1h-1zM503 338h1v1h-1zM503 344h1v1h-1zM503 345h1v1h-1zM503 360h1v1h-1zM503 363h1v1h-1zM503 367h1v1h-1zM503 370h1v1h-1zM503 398h1v1h-1zM503 401h1v1h-1zM504 334h1v1h-1zM504 337h1v1h-1zM504 344h1v1h-1zM504 345h1v1h-1zM504 361h1v1h-1zM504 362h1v1h-1zM504 368h1v1h-1zM504 369h1v1h-1zM504 397h1v1h-1zM504 402h1v1h-1zM505 335h1v1h-1zM505 336h1v1h-1zM505 343h1v1h-1zM505 346h1v1h-1zM505 361h1v1h-1zM505 362h1v1h-1zM505 363h1v1h-1zM505 368h1v1h-1zM505 369h1v1h-1zM506 335h1v1h-1zM506 336h1v1h-1zM506 342h1v1h-1zM506 347h1v1h-1zM506 360h1v1h-1zM506 363h1v1h-1zM506 364h1v1h-1zM506 367h1v1h-1zM506 368h1v1h-1zM506 370h1v1h-1zM506 373h1v1h-1zM507 334h1v1h-1zM507 337h1v1h-1zM507 359h1v1h-1zM507 364h1v1h-1zM507 365h1v1h-1zM507 366h1v1h-1zM507 369h1v1h-1zM507 371h1v1h-1zM507 372h1v1h-1zM508 333h1v1h-1zM508 338h1v1h-1zM508 360h1v1h-1zM508 365h1v1h-1zM508 366h1v1h-1zM508 370h1v1h-1zM508 371h1v1h-1zM509 361h1v1h-1zM509 364h1v1h-1zM509 367h1v1h-1zM509 370h1v1h-1zM509 371h1v1h-1zM510 362h1v1h-1zM510 363h1v1h-1zM510 368h1v1h-1zM510 369h1v1h-1zM510 372h1v1h-1zM511 362h1v1h-1zM511 363h1v1h-1zM511 368h1v1h-1zM511 373h1v1h-1zM511 387h1v1h-1zM511 391h1v1h-1zM511 392h1v1h-1zM511 396h1v1h-1zM512 361h1v1h-1zM512 364h1v1h-1zM512 388h1v1h-1zM512 391h1v1h-1zM512 392h1v1h-1zM512 395h1v1h-1zM513 360h1v1h-1zM513 365h1v1h-1zM513 389h1v1h-1zM513 390h1v1h-1zM513 393h1v1h-1zM513 394h1v1h-1zM514 361h1v1h-1zM514 366h1v1h-1zM514 389h1v1h-1zM514 390h1v1h-1zM514 393h1v1h-1zM514 394h1v1h-1zM515 362h1v1h-1zM515 365h1v1h-1zM515 388h1v1h-1zM515 391h1v1h-1zM515 392h1v1h-1zM515 395h1v1h-1zM516 363h1v1h-1zM516 364h1v1h-1zM516 387h1v1h-1zM516 391h1v1h-1zM516 392h1v1h-1zM516 396h1v1h-1zM517 363h1v1h-1zM517 364h1v1h-1zM518 362h1v1h-1zM518 365h1v1h-1zM518 378h1v1h-1zM518 383h1v1h-1zM519 345h1v1h-1zM519 350h1v1h-1zM519 361h1v1h-1zM519 366h1v1h-1zM519 379h1v1h-1zM519 382h1v1h-1zM520 346h1v1h-1zM520 349h1v1h-1zM520 380h1v1h-1zM520 381h1v1h-1zM521 347h1v1h-1zM521 348h1v1h-1zM521 373h1v1h-1zM521 378h1v1h-1zM521 380h1v1h-1zM521 381h1v1h-1zM521 385h1v1h-1zM522 347h1v1h-1zM522 348h1v1h-1zM522 374h1v1h-1zM522 377h1v1h-1zM522 379h1v1h-1zM522 381h1v1h-1zM522 382h1v1h-1zM522 384h1v1h-1zM523 346h1v1h-1zM523 349h1v1h-1zM523 372h1v1h-1zM523 375h1v1h-1zM523 376h1v1h-1zM523 377h1v1h-1zM523 378h1v1h-1zM523 382h1v1h-1zM523 383h1v1h-1zM524 345h1v1h-1zM524 350h1v1h-1zM524 373h1v1h-1zM524 375h1v1h-1zM524 376h1v1h-1zM524 382h1v1h-1zM524 383h1v1h-1zM525 361h1v1h-1zM525 366h1v1h-1zM525 374h1v1h-1zM525 375h1v1h-1zM525 377h1v1h-1zM525 381h1v1h-1zM525 384h1v1h-1zM526 362h1v1h-1zM526 365h1v1h-1zM526 373h1v1h-1zM526 374h1v1h-1zM526 375h1v1h-1zM526 378h1v1h-1zM526 380h1v1h-1zM526 385h1v1h-1zM527 344h1v1h-1zM527 349h1v1h-1zM527 363h1v1h-1zM527 364h1v1h-1zM527 373h1v1h-1zM527 376h1v1h-1zM527 383h1v1h-1zM527 388h1v1h-1zM528 339h1v1h-1zM528 344h1v1h-1zM528 345h1v1h-1zM528 348h1v1h-1zM528 363h1v1h-1zM528 364h1v1h-1zM528 372h1v1h-1zM528 377h1v1h-1zM528 384h1v1h-1zM528 387h1v1h-1zM529 340h1v1h-1zM529 343h1v1h-1zM529 346h1v1h-1zM529 347h1v1h-1zM529 362h1v1h-1zM529 365h1v1h-1zM529 385h1v1h-1zM529 386h1v1h-1zM529 388h1v1h-1zM529 393h1v1h-1zM530 341h1v1h-1zM530 342h1v1h-1zM530 345h1v1h-1zM530 346h1v1h-1zM530 347h1v1h-1zM530 350h1v1h-1zM530 361h1v1h-1zM530 366h1v1h-1zM530 385h1v1h-1zM530 386h1v1h-1zM530 389h1v1h-1zM530 392h1v1h-1zM531 341h1v1h-1zM531 342h1v1h-1zM531 345h1v1h-1zM531 346h1v1h-1zM531 348h1v1h-1zM531 349h1v1h-1zM531 384h1v1h-1zM531 387h1v1h-1zM531 390h1v1h-1zM531 391h1v1h-1zM532 340h1v1h-1zM532 343h1v1h-1zM532 344h1v1h-1zM532 347h1v1h-1zM532 348h1v1h-1zM532 349h1v1h-1zM532 360h1v1h-1zM532 365h1v1h-1zM532 383h1v1h-1zM532 388h1v1h-1zM532 390h1v1h-1zM532 391h1v1h-1zM533 339h1v1h-1zM533 344h1v1h-1zM533 347h1v1h-1zM533 348h1v1h-1zM533 361h1v1h-1zM533 364h1v1h-1zM533 389h1v1h-1zM533 392h1v1h-1zM534 344h1v1h-1zM534 346h1v1h-1zM534 349h1v1h-1zM534 362h1v1h-1zM534 363h1v1h-1zM534 388h1v1h-1zM534 393h1v1h-1zM535 345h1v1h-1zM535 348h1v1h-1zM535 350h1v1h-1zM535 362h1v1h-1zM535 363h1v1h-1zM536 346h1v1h-1zM536 347h1v1h-1zM536 353h1v1h-1zM536 358h1v1h-1zM536 361h1v1h-1zM536 364h1v1h-1zM537 346h1v1h-1zM537 347h1v1h-1zM537 354h1v1h-1zM537 357h1v1h-1zM537 360h1v1h-1zM537 365h1v1h-1zM537 369h1v1h-1zM537 374h1v1h-1zM538 345h1v1h-1zM538 348h1v1h-1zM538 355h1v1h-1zM538 356h1v1h-1zM538 370h1v1h-1zM538 373h1v1h-1zM538 440h1v1h-1zM538 445h1v1h-1zM539 344h1v1h-1zM539 349h1v1h-1zM539 355h1v1h-1zM539 356h1v1h-1zM539 371h1v1h-1zM539 372h1v1h-1zM539 381h1v1h-1zM539 386h1v1h-1zM539 441h1v1h-1zM539 444h1v1h-1zM540 354h1v1h-1zM540 357h1v1h-1zM540 371h1v1h-1zM540 372h1v1h-1zM540 382h1v1h-1zM540 385h1v1h-1zM540 442h1v1h-1zM540 443h1v1h-1zM541 337h1v1h-1zM541 342h1v1h-1zM541 353h1v1h-1zM541 358h1v1h-1zM541 370h1v1h-1zM541 373h1v1h-1zM541 383h1v1h-1zM541 384h1v1h-1zM541 442h1v1h-1zM541 443h1v1h-1zM542 338h1v1h-1zM542 341h1v1h-1zM542 369h1v1h-1zM542 374h1v1h-1zM542 383h1v1h-1zM542 384h1v1h-1zM542 441h1v1h-1zM542 444h1v1h-1zM543 339h1v1h-1zM543 340h1v1h-1zM543 346h1v1h-1zM543 351h1v1h-1zM543 382h1v1h-1zM543 385h1v1h-1zM543 440h1v1h-1zM543 445h1v1h-1zM544 339h1v1h-1zM544 340h1v1h-1zM544 347h1v1h-1zM544 350h1v1h-1zM544 381h1v1h-1zM544 386h1v1h-1zM545 338h1v1h-1zM545 341h1v1h-1zM545 348h1v1h-1zM545 349h1v1h-1zM545 359h1v1h-1zM545 364h1v1h-1zM546 337h1v1h-1zM546 342h1v1h-1zM546 348h1v1h-1zM546 349h1v1h-1zM546 360h1v1h-1zM546 363h1v1h-1zM546 365h1v1h-1zM546 370h1v1h-1zM546 385h1v1h-1zM546 390h1v1h-1zM547 347h1v1h-1zM547 350h1v1h-1zM547 361h1v1h-1zM547 362h1v1h-1zM547 366h1v1h-1zM547 369h1v1h-1zM547 386h1v1h-1zM547 389h1v1h-1zM548 306h1v1h-1zM548 311h1v1h-1zM548 346h1v1h-1zM548 351h1v1h-1zM548 361h1v1h-1zM548 362h1v1h-1zM548 367h1v1h-1zM548 368h1v1h-1zM548 387h1v1h-1zM548 388h1v1h-1zM549 307h1v1h-1zM549 310h1v1h-1zM549 360h1v1h-1zM549 363h1v1h-1zM549 367h1v1h-1zM549 368h1v1h-1zM549 387h1v1h-1zM549 388h1v1h-1zM550 308h1v1h-1zM550 309h1v1h-1zM550 354h1v1h-1zM550 359h1v1h-1zM550 361h1v1h-1zM550 364h1v1h-1zM550 366h1v1h-1zM550 369h1v1h-1zM550 386h1v1h-1zM550 389h1v1h-1zM551 308h1v1h-1zM551 309h1v1h-1zM551 355h1v1h-1zM551 358h1v1h-1zM551 362h1v1h-1zM551 365h1v1h-1zM551 370h1v1h-1zM551 385h1v1h-1zM551 390h1v1h-1zM552 307h1v1h-1zM552 310h1v1h-1zM552 356h1v1h-1zM552 357h1v1h-1zM552 363h1v1h-1zM552 364h1v1h-1zM553 306h1v1h-1zM553 311h1v1h-1zM553 339h1v1h-1zM553 344h1v1h-1zM553 356h1v1h-1zM553 357h1v1h-1zM553 363h1v1h-1zM553 364h1v1h-1zM554 340h1v1h-1zM554 343h1v1h-1zM554 355h1v1h-1zM554 358h1v1h-1zM554 362h1v1h-1zM554 365h1v1h-1zM555 329h1v1h-1zM555 334h1v1h-1zM555 341h1v1h-1zM555 342h1v1h-1zM555 354h1v1h-1zM555 359h1v1h-1zM555 361h1v1h-1zM555 366h1v1h-1zM556 330h1v1h-1zM556 333h1v1h-1zM556 341h1v1h-1zM556 342h1v1h-1zM556 354h1v1h-1zM556 359h1v1h-1zM557 331h1v1h-1zM557 332h1v1h-1zM557 340h1v1h-1zM557 343h1v1h-1zM557 355h1v1h-1zM557 358h1v1h-1zM557 366h1v1h-1zM557 371h1v1h-1zM558 331h1v1h-1zM558 332h1v1h-1zM558 339h1v1h-1zM558 344h1v1h-1zM558 356h1v1h-1zM558 357h1v1h-1zM558 367h1v1h-1zM558 370h1v1h-1zM559 330h1v1h-1zM559 333h1v1h-1zM559 356h1v1h-1zM559 357h1v1h-1zM559 368h1v1h-1zM559 369h1v1h-1zM560 329h1v1h-1zM560 334h1v1h-1zM560 349h1v1h-1zM560 354h1v1h-1zM560 355h1v1h-1zM560 358h1v1h-1zM560 368h1v1h-1zM560 369h1v1h-1zM561 350h1v1h-1zM561 353h1v1h-1zM561 354h1v1h-1zM561 359h1v1h-1zM561 367h1v1h-1zM561 370h1v1h-1zM562 351h1v1h-1zM562 352h1v1h-1zM562 353h1v1h-1zM562 358h1v1h-1zM562 366h1v1h-1zM562 371h1v1h-1zM563 351h1v1h-1zM563 352h1v1h-1zM563 354h1v1h-1zM563 357h1v1h-1zM563 417h1v1h-1zM563 422h1v1h-1zM564 350h1v1h-1zM564 353h1v1h-1zM564 355h1v1h-1zM564 356h1v1h-1zM564 418h1v1h-1zM564 421h1v1h-1zM565 334h1v1h-1zM565 339h1v1h-1zM565 349h1v1h-1zM565 354h1v1h-1zM565 355h1v1h-1zM565 356h1v1h-1zM565 419h1v1h-1zM565 420h1v1h-1zM566 335h1v1h-1zM566 338h1v1h-1zM566 354h1v1h-1zM566 357h1v1h-1zM566 359h1v1h-1zM566 364h1v1h-1zM566 419h1v1h-1zM566 420h1v1h-1zM567 336h1v1h-1zM567 337h1v1h-1zM567 353h1v1h-1zM567 356h1v1h-1zM567 358h1v1h-1zM567 360h1v1h-1zM567 361h1v1h-1zM567 363h1v1h-1zM567 418h1v1h-1zM567 421h1v1h-1zM568 336h1v1h-1zM568 337h1v1h-1zM568 357h1v1h-1zM568 360h1v1h-1zM568 361h1v1h-1zM568 362h1v1h-1zM568 370h1v1h-1zM568 375h1v1h-1zM568 417h1v1h-1zM568 422h1v1h-1zM568 435h1v1h-1zM568 440h1v1h-1zM569 335h1v1h-1zM569 338h1v1h-1zM569 358h1v1h-1zM569 359h1v1h-1zM569 361h1v1h-1zM569 362h1v1h-1zM569 371h1v1h-1zM569 374h1v1h-1zM569 436h1v1h-1zM569 439h1v1h-1zM570 334h1v1h-1zM570 339h1v1h-1zM570 358h1v1h-1zM570 359h1v1h-1zM570 360h1v1h-1zM570 363h1v1h-1zM570 372h1v1h-1zM570 373h1v1h-1zM570 437h1v1h-1zM570 438h1v1h-1zM571 345h1v1h-1zM571 350h1v1h-1zM571 357h1v1h-1zM571 359h1v1h-1zM571 360h1v1h-1zM571 364h1v1h-1zM571 372h1v1h-1zM571 373h1v1h-1zM571 391h1v1h-1zM571 396h1v1h-1zM571 437h1v1h-1zM571 438h1v1h-1zM572 346h1v1h-1zM572 349h1v1h-1zM572 356h1v1h-1zM572 361h1v1h-1zM572 371h1v1h-1zM572 374h1v1h-1zM572 392h1v1h-1zM572 395h1v1h-1zM572 436h1v1h-1zM572 439h1v1h-1zM573 347h1v1h-1zM573 348h1v1h-1zM573 367h1v1h-1zM573 370h1v1h-1zM573 372h1v1h-1zM573 375h1v1h-1zM573 385h1v1h-1zM573 390h1v1h-1zM573 393h1v1h-1zM573 394h1v1h-1zM573 435h1v1h-1zM573 440h1v1h-1zM574 347h1v1h-1zM574 348h1v1h-1zM574 368h1v1h-1zM574 371h1v1h-1zM574 386h1v1h-1zM574 389h1v1h-1zM574 393h1v1h-1zM574 394h1v1h-1zM575 346h1v1h-1zM575 349h1v1h-1zM575 369h1v1h-1zM575 370h1v1h-1zM575 387h1v1h-1zM575 388h1v1h-1zM575 392h1v1h-1zM575 395h1v1h-1zM576 345h1v1h-1zM576 350h1v1h-1zM576 369h1v1h-1zM576 370h1v1h-1zM576 387h1v1h-1zM576 388h1v1h-1zM576 391h1v1h-1zM576 396h1v1h-1zM577 368h1v1h-1zM577 371h1v1h-1zM577 386h1v1h-1zM577 389h1v1h-1zM577 391h1v1h-1zM577 396h1v1h-1zM578 350h1v1h-1zM578 355h1v1h-1zM578 363h1v1h-1zM578 367h1v1h-1zM578 368h1v1h-1zM578 372h1v1h-1zM578 385h1v1h-1zM578 390h1v1h-1zM578 392h1v1h-1zM578 395h1v1h-1zM579 351h1v1h-1zM579 354h1v1h-1zM579 364h1v1h-1zM579 367h1v1h-1zM579 393h1v1h-1zM579 394h1v1h-1zM580 344h1v1h-1zM580 349h1v1h-1zM580 352h1v1h-1zM580 353h1v1h-1zM580 358h1v1h-1zM580 363h1v1h-1zM580 365h1v1h-1zM580 366h1v1h-1zM580 393h1v1h-1zM580 394h1v1h-1zM581 345h1v1h-1zM581 348h1v1h-1zM581 352h1v1h-1zM581 353h1v1h-1zM581 359h1v1h-1zM581 362h1v1h-1zM581 365h1v1h-1zM581 366h1v1h-1zM581 392h1v1h-1zM581 395h1v1h-1zM581 419h1v1h-1zM581 424h1v1h-1zM582 346h1v1h-1zM582 347h1v1h-1zM582 351h1v1h-1zM582 354h1v1h-1zM582 360h1v1h-1zM582 361h1v1h-1zM582 364h1v1h-1zM582 367h1v1h-1zM582 385h1v1h-1zM582 390h1v1h-1zM582 391h1v1h-1zM582 396h1v1h-1zM582 420h1v1h-1zM582 423h1v1h-1zM583 346h1v1h-1zM583 347h1v1h-1zM583 350h1v1h-1zM583 355h1v1h-1zM583 360h1v1h-1zM583 361h1v1h-1zM583 363h1v1h-1zM583 368h1v1h-1zM583 386h1v1h-1zM583 389h1v1h-1zM583 421h1v1h-1zM583 422h1v1h-1zM584 345h1v1h-1zM584 348h1v1h-1zM584 359h1v1h-1zM584 362h1v1h-1zM584 373h1v1h-1zM584 378h1v1h-1zM584 387h1v1h-1zM584 388h1v1h-1zM584 421h1v1h-1zM584 422h1v1h-1zM585 317h1v1h-1zM585 322h1v1h-1zM585 344h1v1h-1zM585 349h1v1h-1zM585 358h1v1h-1zM585 363h1v1h-1zM585 374h1v1h-1zM585 377h1v1h-1zM585 382h1v1h-1zM585 383h1v1h-1zM585 387h1v1h-1zM585 388h1v1h-1zM585 420h1v1h-1zM585 423h1v1h-1zM586 318h1v1h-1zM586 321h1v1h-1zM586 375h1v1h-1zM586 376h1v1h-1zM586 378h1v1h-1zM586 381h1v1h-1zM586 384h1v1h-1zM586 386h1v1h-1zM586 387h1v1h-1zM586 389h1v1h-1zM586 419h1v1h-1zM586 424h1v1h-1zM587 319h1v1h-1zM587 320h1v1h-1zM587 331h1v1h-1zM587 336h1v1h-1zM587 350h1v1h-1zM587 355h1v1h-1zM587 357h1v1h-1zM587 362h1v1h-1zM587 369h1v1h-1zM587 374h1v1h-1zM587 375h1v1h-1zM587 376h1v1h-1zM587 379h1v1h-1zM587 380h1v1h-1zM587 385h1v1h-1zM587 386h1v1h-1zM587 390h1v1h-1zM588 319h1v1h-1zM588 320h1v1h-1zM588 332h1v1h-1zM588 335h1v1h-1zM588 351h1v1h-1zM588 354h1v1h-1zM588 358h1v1h-1zM588 361h1v1h-1zM588 370h1v1h-1zM588 373h1v1h-1zM588 374h1v1h-1zM588 377h1v1h-1zM588 379h1v1h-1zM588 380h1v1h-1zM588 385h1v1h-1zM588 386h1v1h-1zM589 318h1v1h-1zM589 321h1v1h-1zM589 329h1v1h-1zM589 333h1v1h-1zM589 334h1v1h-1zM589 352h1v1h-1zM589 353h1v1h-1zM589 359h1v1h-1zM589 360h1v1h-1zM589 362h1v1h-1zM589 367h1v1h-1zM589 371h1v1h-1zM589 372h1v1h-1zM589 373h1v1h-1zM589 378h1v1h-1zM589 381h1v1h-1zM589 384h1v1h-1zM589 387h1v1h-1zM590 317h1v1h-1zM590 322h1v1h-1zM590 330h1v1h-1zM590 333h1v1h-1zM590 334h1v1h-1zM590 352h1v1h-1zM590 353h1v1h-1zM590 359h1v1h-1zM590 360h1v1h-1zM590 363h1v1h-1zM590 366h1v1h-1zM590 371h1v1h-1zM590 372h1v1h-1zM590 377h1v1h-1zM590 382h1v1h-1zM590 383h1v1h-1zM590 388h1v1h-1zM591 331h1v1h-1zM591 332h1v1h-1zM591 335h1v1h-1zM591 351h1v1h-1zM591 354h1v1h-1zM591 358h1v1h-1zM591 361h1v1h-1zM591 362h1v1h-1zM591 364h1v1h-1zM591 365h1v1h-1zM591 367h1v1h-1zM591 370h1v1h-1zM591 373h1v1h-1zM592 331h1v1h-1zM592 332h1v1h-1zM592 336h1v1h-1zM592 350h1v1h-1zM592 355h1v1h-1zM592 357h1v1h-1zM592 362h1v1h-1zM592 363h1v1h-1zM592 364h1v1h-1zM592 365h1v1h-1zM592 366h1v1h-1zM592 369h1v1h-1zM592 374h1v1h-1zM593 330h1v1h-1zM593 333h1v1h-1zM593 363h1v1h-1zM593 364h1v1h-1zM593 365h1v1h-1zM593 366h1v1h-1zM593 427h1v1h-1zM593 432h1v1h-1zM594 329h1v1h-1zM594 334h1v1h-1zM594 350h1v1h-1zM594 355h1v1h-1zM594 362h1v1h-1zM594 364h1v1h-1zM594 365h1v1h-1zM594 367h1v1h-1zM594 428h1v1h-1zM594 431h1v1h-1zM595 323h1v1h-1zM595 328h1v1h-1zM595 351h1v1h-1zM595 354h1v1h-1zM595 363h1v1h-1zM595 366h1v1h-1zM595 429h1v1h-1zM595 430h1v1h-1zM596 324h1v1h-1zM596 327h1v1h-1zM596 352h1v1h-1zM596 353h1v1h-1zM596 362h1v1h-1zM596 367h1v1h-1zM596 429h1v1h-1zM596 430h1v1h-1zM597 325h1v1h-1zM597 326h1v1h-1zM597 352h1v1h-1zM597 353h1v1h-1zM597 376h1v1h-1zM597 381h1v1h-1zM597 428h1v1h-1zM597 431h1v1h-1zM598 325h1v1h-1zM598 326h1v1h-1zM598 351h1v1h-1zM598 354h1v1h-1zM598 377h1v1h-1zM598 380h1v1h-1zM598 426h1v1h-1zM598 427h1v1h-1zM598 431h1v1h-1zM598 432h1v1h-1zM599 324h1v1h-1zM599 327h1v1h-1zM599 350h1v1h-1zM599 355h1v1h-1zM599 378h1v1h-1zM599 379h1v1h-1zM599 427h1v1h-1zM599 430h1v1h-1zM600 323h1v1h-1zM600 328h1v1h-1zM600 373h1v1h-1zM600 378h1v1h-1zM600 379h1v1h-1zM600 381h1v1h-1zM600 386h1v1h-1zM600 428h1v1h-1zM600 429h1v1h-1zM601 332h1v1h-1zM601 337h1v1h-1zM601 374h1v1h-1zM601 377h1v1h-1zM601 380h1v1h-1zM601 382h1v1h-1zM601 385h1v1h-1zM601 428h1v1h-1zM601 429h1v1h-1zM602 333h1v1h-1zM602 336h1v1h-1zM602 375h1v1h-1zM602 376h1v1h-1zM602 381h1v1h-1zM602 383h1v1h-1zM602 384h1v1h-1zM602 427h1v1h-1zM602 430h1v1h-1zM603 334h1v1h-1zM603 335h1v1h-1zM603 375h1v1h-1zM603 376h1v1h-1zM603 383h1v1h-1zM603 384h1v1h-1zM603 388h1v1h-1zM603 426h1v1h-1zM603 431h1v1h-1zM604 334h1v1h-1zM604 335h1v1h-1zM604 345h1v1h-1zM604 350h1v1h-1zM604 374h1v1h-1zM604 377h1v1h-1zM604 382h1v1h-1zM604 384h1v1h-1zM604 385h1v1h-1zM604 387h1v1h-1zM605 333h1v1h-1zM605 336h1v1h-1zM605 346h1v1h-1zM605 349h1v1h-1zM605 361h1v1h-1zM605 366h1v1h-1zM605 373h1v1h-1zM605 378h1v1h-1zM605 381h1v1h-1zM605 385h1v1h-1zM605 386h1v1h-1zM606 332h1v1h-1zM606 337h1v1h-1zM606 347h1v1h-1zM606 348h1v1h-1zM606 362h1v1h-1zM606 365h1v1h-1zM606 370h1v1h-1zM606 385h1v1h-1zM606 386h1v1h-1zM607 347h1v1h-1zM607 348h1v1h-1zM607 352h1v1h-1zM607 363h1v1h-1zM607 364h1v1h-1zM607 366h1v1h-1zM607 369h1v1h-1zM607 384h1v1h-1zM607 387h1v1h-1zM608 346h1v1h-1zM608 348h1v1h-1zM608 349h1v1h-1zM608 351h1v1h-1zM608 363h1v1h-1zM608 364h1v1h-1zM608 367h1v1h-1zM608 368h1v1h-1zM608 383h1v1h-1zM608 388h1v1h-1zM609 325h1v1h-1zM609 330h1v1h-1zM609 339h1v1h-1zM609 344h1v1h-1zM609 345h1v1h-1zM609 349h1v1h-1zM609 350h1v1h-1zM609 362h1v1h-1zM609 365h1v1h-1zM609 367h1v1h-1zM609 368h1v1h-1zM609 407h1v1h-1zM609 412h1v1h-1zM610 326h1v1h-1zM610 329h1v1h-1zM610 340h1v1h-1zM610 343h1v1h-1zM610 349h1v1h-1zM610 350h1v1h-1zM610 361h1v1h-1zM610 366h1v1h-1zM610 369h1v1h-1zM610 408h1v1h-1zM610 411h1v1h-1zM611 327h1v1h-1zM611 328h1v1h-1zM611 341h1v1h-1zM611 342h1v1h-1zM611 348h1v1h-1zM611 351h1v1h-1zM611 353h1v1h-1zM611 358h1v1h-1zM611 365h1v1h-1zM611 370h1v1h-1zM611 409h1v1h-1zM611 410h1v1h-1zM612 327h1v1h-1zM612 328h1v1h-1zM612 341h1v1h-1zM612 342h1v1h-1zM612 347h1v1h-1zM612 352h1v1h-1zM612 354h1v1h-1zM612 357h1v1h-1zM612 409h1v1h-1zM612 410h1v1h-1zM613 326h1v1h-1zM613 329h1v1h-1zM613 340h1v1h-1zM613 343h1v1h-1zM613 355h1v1h-1zM613 356h1v1h-1zM613 359h1v1h-1zM613 364h1v1h-1zM613 408h1v1h-1zM613 411h1v1h-1zM614 325h1v1h-1zM614 330h1v1h-1zM614 339h1v1h-1zM614 344h1v1h-1zM614 355h1v1h-1zM614 356h1v1h-1zM614 360h1v1h-1zM614 363h1v1h-1zM614 370h1v1h-1zM614 375h1v1h-1zM614 407h1v1h-1zM614 412h1v1h-1zM615 354h1v1h-1zM615 357h1v1h-1zM615 361h1v1h-1zM615 362h1v1h-1zM615 371h1v1h-1zM615 374h1v1h-1zM616 343h1v1h-1zM616 348h1v1h-1zM616 353h1v1h-1zM616 358h1v1h-1zM616 361h1v1h-1zM616 362h1v1h-1zM616 366h1v1h-1zM616 372h1v1h-1zM616 373h1v1h-1zM617 344h1v1h-1zM617 347h1v1h-1zM617 360h1v1h-1zM617 362h1v1h-1zM617 363h1v1h-1zM617 365h1v1h-1zM617 372h1v1h-1zM617 373h1v1h-1zM618 345h1v1h-1zM618 346h1v1h-1zM618 359h1v1h-1zM618 363h1v1h-1zM618 364h1v1h-1zM618 371h1v1h-1zM618 374h1v1h-1zM619 345h1v1h-1zM619 346h1v1h-1zM619 347h1v1h-1zM619 351h1v1h-1zM619 352h1v1h-1zM619 356h1v1h-1zM619 363h1v1h-1zM619 364h1v1h-1zM619 370h1v1h-1zM619 375h1v1h-1zM619 379h1v1h-1zM619 384h1v1h-1zM620 344h1v1h-1zM620 347h1v1h-1zM620 348h1v1h-1zM620 351h1v1h-1zM620 352h1v1h-1zM620 355h1v1h-1zM620 361h1v1h-1zM620 362h1v1h-1zM620 365h1v1h-1zM620 366h1v1h-1zM620 380h1v1h-1zM620 383h1v1h-1zM621 343h1v1h-1zM621 348h1v1h-1zM621 349h1v1h-1zM621 350h1v1h-1zM621 353h1v1h-1zM621 354h1v1h-1zM621 361h1v1h-1zM621 362h1v1h-1zM621 365h1v1h-1zM621 366h1v1h-1zM621 381h1v1h-1zM621 382h1v1h-1zM622 349h1v1h-1zM622 350h1v1h-1zM622 353h1v1h-1zM622 354h1v1h-1zM622 363h1v1h-1zM622 364h1v1h-1zM622 371h1v1h-1zM622 376h1v1h-1zM622 381h1v1h-1zM622 382h1v1h-1zM623 348h1v1h-1zM623 351h1v1h-1zM623 352h1v1h-1zM623 355h1v1h-1zM623 363h1v1h-1zM623 364h1v1h-1zM623 372h1v1h-1zM623 375h1v1h-1zM623 380h1v1h-1zM623 382h1v1h-1zM623 383h1v1h-1zM623 387h1v1h-1zM623 389h1v1h-1zM623 394h1v1h-1zM623 397h1v1h-1zM623 402h1v1h-1zM624 347h1v1h-1zM624 351h1v1h-1zM624 352h1v1h-1zM624 356h1v1h-1zM624 362h1v1h-1zM624 365h1v1h-1zM624 373h1v1h-1zM624 374h1v1h-1zM624 379h1v1h-1zM624 383h1v1h-1zM624 384h1v1h-1zM624 386h1v1h-1zM624 390h1v1h-1zM624 393h1v1h-1zM624 398h1v1h-1zM624 401h1v1h-1zM625 361h1v1h-1zM625 366h1v1h-1zM625 373h1v1h-1zM625 374h1v1h-1zM625 384h1v1h-1zM625 385h1v1h-1zM625 391h1v1h-1zM625 392h1v1h-1zM625 399h1v1h-1zM625 400h1v1h-1zM626 372h1v1h-1zM626 375h1v1h-1zM626 383h1v1h-1zM626 384h1v1h-1zM626 385h1v1h-1zM626 388h1v1h-1zM626 391h1v1h-1zM626 392h1v1h-1zM626 399h1v1h-1zM626 400h1v1h-1zM627 371h1v1h-1zM627 376h1v1h-1zM627 383h1v1h-1zM627 384h1v1h-1zM627 386h1v1h-1zM627 387h1v1h-1zM627 390h1v1h-1zM627 393h1v1h-1zM627 398h1v1h-1zM627 401h1v1h-1zM628 353h1v1h-1zM628 358h1v1h-1zM628 369h1v1h-1zM628 374h1v1h-1zM628 382h1v1h-1zM628 385h1v1h-1zM628 386h1v1h-1zM628 387h1v1h-1zM628 389h1v1h-1zM628 394h1v1h-1zM628 397h1v1h-1zM628 402h1v1h-1zM629 354h1v1h-1zM629 357h1v1h-1zM629 370h1v1h-1zM629 373h1v1h-1zM629 385h1v1h-1zM629 386h1v1h-1zM629 414h1v1h-1zM629 419h1v1h-1zM630 355h1v1h-1zM630 356h1v1h-1zM630 371h1v1h-1zM630 372h1v1h-1zM630 384h1v1h-1zM630 387h1v1h-1zM630 415h1v1h-1zM630 418h1v1h-1zM631 331h1v1h-1zM631 336h1v1h-1zM631 345h1v1h-1zM631 350h1v1h-1zM631 355h1v1h-1zM631 356h1v1h-1zM631 371h1v1h-1zM631 372h1v1h-1zM631 382h1v1h-1zM631 383h1v1h-1zM631 387h1v1h-1zM631 388h1v1h-1zM631 391h1v1h-1zM631 396h1v1h-1zM631 416h1v1h-1zM631 417h1v1h-1zM632 332h1v1h-1zM632 335h1v1h-1zM632 346h1v1h-1zM632 349h1v1h-1zM632 354h1v1h-1zM632 357h1v1h-1zM632 370h1v1h-1zM632 373h1v1h-1zM632 383h1v1h-1zM632 386h1v1h-1zM632 392h1v1h-1zM632 395h1v1h-1zM632 416h1v1h-1zM632 417h1v1h-1zM633 333h1v1h-1zM633 334h1v1h-1zM633 347h1v1h-1zM633 348h1v1h-1zM633 353h1v1h-1zM633 358h1v1h-1zM633 369h1v1h-1zM633 374h1v1h-1zM633 384h1v1h-1zM633 385h1v1h-1zM633 393h1v1h-1zM633 394h1v1h-1zM633 415h1v1h-1zM633 418h1v1h-1zM634 333h1v1h-1zM634 334h1v1h-1zM634 347h1v1h-1zM634 348h1v1h-1zM634 353h1v1h-1zM634 358h1v1h-1zM634 373h1v1h-1zM634 378h1v1h-1zM634 384h1v1h-1zM634 385h1v1h-1zM634 390h1v1h-1zM634 393h1v1h-1zM634 394h1v1h-1zM634 413h1v1h-1zM634 414h1v1h-1zM634 418h1v1h-1zM634 419h1v1h-1zM635 332h1v1h-1zM635 335h1v1h-1zM635 346h1v1h-1zM635 349h1v1h-1zM635 354h1v1h-1zM635 357h1v1h-1zM635 374h1v1h-1zM635 377h1v1h-1zM635 383h1v1h-1zM635 386h1v1h-1zM635 389h1v1h-1zM635 392h1v1h-1zM635 395h1v1h-1zM635 414h1v1h-1zM635 417h1v1h-1zM636 331h1v1h-1zM636 336h1v1h-1zM636 345h1v1h-1zM636 350h1v1h-1zM636 355h1v1h-1zM636 356h1v1h-1zM636 375h1v1h-1zM636 376h1v1h-1zM636 382h1v1h-1zM636 387h1v1h-1zM636 388h1v1h-1zM636 391h1v1h-1zM636 396h1v1h-1zM636 415h1v1h-1zM636 416h1v1h-1zM637 355h1v1h-1zM637 356h1v1h-1zM637 371h1v1h-1zM637 375h1v1h-1zM637 376h1v1h-1zM637 387h1v1h-1zM637 388h1v1h-1zM637 415h1v1h-1zM637 416h1v1h-1zM638 354h1v1h-1zM638 357h1v1h-1zM638 372h1v1h-1zM638 374h1v1h-1zM638 375h1v1h-1zM638 377h1v1h-1zM638 386h1v1h-1zM638 389h1v1h-1zM638 414h1v1h-1zM638 417h1v1h-1zM639 353h1v1h-1zM639 358h1v1h-1zM639 363h1v1h-1zM639 373h1v1h-1zM639 374h1v1h-1zM639 378h1v1h-1zM639 382h1v1h-1zM639 385h1v1h-1zM639 387h1v1h-1zM639 390h1v1h-1zM639 413h1v1h-1zM639 418h1v1h-1zM640 359h1v1h-1zM640 362h1v1h-1zM640 373h1v1h-1zM640 374h1v1h-1zM640 383h1v1h-1zM640 386h1v1h-1zM641 350h1v1h-1zM641 355h1v1h-1zM641 360h1v1h-1zM641 361h1v1h-1zM641 371h1v1h-1zM641 372h1v1h-1zM641 375h1v1h-1zM641 376h1v1h-1zM641 384h1v1h-1zM641 385h1v1h-1zM642 351h1v1h-1zM642 354h1v1h-1zM642 360h1v1h-1zM642 361h1v1h-1zM642 371h1v1h-1zM642 372h1v1h-1zM642 375h1v1h-1zM642 376h1v1h-1zM642 384h1v1h-1zM642 385h1v1h-1zM643 325h1v1h-1zM643 330h1v1h-1zM643 352h1v1h-1zM643 353h1v1h-1zM643 359h1v1h-1zM643 362h1v1h-1zM643 373h1v1h-1zM643 374h1v1h-1zM643 383h1v1h-1zM643 386h1v1h-1zM644 326h1v1h-1zM644 329h1v1h-1zM644 352h1v1h-1zM644 353h1v1h-1zM644 358h1v1h-1zM644 363h1v1h-1zM644 373h1v1h-1zM644 374h1v1h-1zM644 382h1v1h-1zM644 387h1v1h-1zM645 327h1v1h-1zM645 328h1v1h-1zM645 351h1v1h-1zM645 353h1v1h-1zM645 354h1v1h-1zM645 358h1v1h-1zM645 372h1v1h-1zM645 375h1v1h-1zM645 378h1v1h-1zM645 383h1v1h-1zM646 327h1v1h-1zM646 328h1v1h-1zM646 350h1v1h-1zM646 354h1v1h-1zM646 355h1v1h-1zM646 357h1v1h-1zM646 371h1v1h-1zM646 376h1v1h-1zM646 379h1v1h-1zM646 382h1v1h-1zM647 326h1v1h-1zM647 329h1v1h-1zM647 355h1v1h-1zM647 356h1v1h-1zM647 379h1v1h-1zM647 380h1v1h-1zM647 381h1v1h-1zM647 384h1v1h-1zM648 325h1v1h-1zM648 330h1v1h-1zM648 355h1v1h-1zM648 356h1v1h-1zM648 358h1v1h-1zM648 363h1v1h-1zM648 380h1v1h-1zM648 381h1v1h-1zM648 383h1v1h-1zM649 354h1v1h-1zM649 357h1v1h-1zM649 359h1v1h-1zM649 362h1v1h-1zM649 367h1v1h-1zM649 372h1v1h-1zM649 379h1v1h-1zM649 381h1v1h-1zM649 382h1v1h-1zM650 353h1v1h-1zM650 358h1v1h-1zM650 360h1v1h-1zM650 361h1v1h-1zM650 368h1v1h-1zM650 371h1v1h-1zM650 374h1v1h-1zM650 378h1v1h-1zM650 379h1v1h-1zM650 381h1v1h-1zM650 382h1v1h-1zM650 383h1v1h-1zM650 400h1v1h-1zM650 405h1v1h-1zM651 356h1v1h-1zM651 360h1v1h-1zM651 361h1v1h-1zM651 369h1v1h-1zM651 370h1v1h-1zM651 375h1v1h-1zM651 378h1v1h-1zM651 380h1v1h-1zM651 383h1v1h-1zM651 391h1v1h-1zM651 396h1v1h-1zM651 401h1v1h-1zM651 404h1v1h-1zM652 357h1v1h-1zM652 359h1v1h-1zM652 360h1v1h-1zM652 362h1v1h-1zM652 369h1v1h-1zM652 370h1v1h-1zM652 376h1v1h-1zM652 377h1v1h-1zM652 379h1v1h-1zM652 384h1v1h-1zM652 392h1v1h-1zM652 395h1v1h-1zM652 402h1v1h-1zM652 403h1v1h-1zM653 355h1v1h-1zM653 358h1v1h-1zM653 359h1v1h-1zM653 360h1v1h-1zM653 363h1v1h-1zM653 368h1v1h-1zM653 371h1v1h-1zM653 376h1v1h-1zM653 377h1v1h-1zM653 393h1v1h-1zM653 394h1v1h-1zM653 402h1v1h-1zM653 403h1v1h-1zM654 356h1v1h-1zM654 358h1v1h-1zM654 359h1v1h-1zM654 367h1v1h-1zM654 372h1v1h-1zM654 375h1v1h-1zM654 378h1v1h-1zM654 393h1v1h-1zM654 394h1v1h-1zM654 401h1v1h-1zM654 402h1v1h-1zM654 404h1v1h-1zM654 407h1v1h-1zM655 357h1v1h-1zM655 358h1v1h-1zM655 360h1v1h-1zM655 374h1v1h-1zM655 379h1v1h-1zM655 392h1v1h-1zM655 395h1v1h-1zM655 396h1v1h-1zM655 400h1v1h-1zM655 401h1v1h-1zM655 403h1v1h-1zM655 405h1v1h-1zM655 406h1v1h-1zM656 355h1v1h-1zM656 356h1v1h-1zM656 357h1v1h-1zM656 358h1v1h-1zM656 360h1v1h-1zM656 361h1v1h-1zM656 391h1v1h-1zM656 396h1v1h-1zM656 397h1v1h-1zM656 400h1v1h-1zM656 404h1v1h-1zM656 405h1v1h-1zM657 356h1v1h-1zM657 359h1v1h-1zM657 366h1v1h-1zM657 371h1v1h-1zM657 398h1v1h-1zM657 399h1v1h-1zM657 404h1v1h-1zM657 405h1v1h-1zM658 355h1v1h-1zM658 357h1v1h-1zM658 358h1v1h-1zM658 360h1v1h-1zM658 367h1v1h-1zM658 370h1v1h-1zM658 398h1v1h-1zM658 399h1v1h-1zM658 403h1v1h-1zM658 406h1v1h-1zM659 339h1v1h-1zM659 344h1v1h-1zM659 357h1v1h-1zM659 358h1v1h-1zM659 368h1v1h-1zM659 369h1v1h-1zM659 371h1v1h-1zM659 376h1v1h-1zM659 397h1v1h-1zM659 400h1v1h-1zM659 402h1v1h-1zM659 407h1v1h-1zM660 340h1v1h-1zM660 343h1v1h-1zM660 356h1v1h-1zM660 359h1v1h-1zM660 368h1v1h-1zM660 369h1v1h-1zM660 372h1v1h-1zM660 375h1v1h-1zM660 396h1v1h-1zM660 401h1v1h-1zM661 341h1v1h-1zM661 342h1v1h-1zM661 355h1v1h-1zM661 360h1v1h-1zM661 367h1v1h-1zM661 370h1v1h-1zM661 373h1v1h-1zM661 374h1v1h-1zM661 379h1v1h-1zM661 384h1v1h-1zM662 341h1v1h-1zM662 342h1v1h-1zM662 366h1v1h-1zM662 371h1v1h-1zM662 373h1v1h-1zM662 374h1v1h-1zM662 380h1v1h-1zM662 383h1v1h-1zM662 384h1v1h-1zM662 389h1v1h-1zM663 340h1v1h-1zM663 343h1v1h-1zM663 372h1v1h-1zM663 375h1v1h-1zM663 381h1v1h-1zM663 382h1v1h-1zM663 385h1v1h-1zM663 388h1v1h-1zM663 393h1v1h-1zM663 398h1v1h-1zM664 339h1v1h-1zM664 344h1v1h-1zM664 371h1v1h-1zM664 376h1v1h-1zM664 381h1v1h-1zM664 382h1v1h-1zM664 386h1v1h-1zM664 387h1v1h-1zM664 394h1v1h-1zM664 397h1v1h-1zM665 380h1v1h-1zM665 383h1v1h-1zM665 386h1v1h-1zM665 387h1v1h-1zM665 395h1v1h-1zM665 396h1v1h-1zM666 370h1v1h-1zM666 375h1v1h-1zM666 379h1v1h-1zM666 384h1v1h-1zM666 385h1v1h-1zM666 388h1v1h-1zM666 395h1v1h-1zM666 396h1v1h-1zM667 371h1v1h-1zM667 374h1v1h-1zM667 384h1v1h-1zM667 389h1v1h-1zM667 394h1v1h-1zM667 397h1v1h-1zM668 372h1v1h-1zM668 373h1v1h-1zM668 393h1v1h-1zM668 398h1v1h-1zM669 367h1v1h-1zM669 372h1v1h-1zM669 373h1v1h-1zM670 368h1v1h-1zM670 371h1v1h-1zM670 374h1v1h-1zM671 369h1v1h-1zM671 370h1v1h-1zM671 375h1v1h-1zM672 369h1v1h-1zM672 370h1v1h-1zM673 361h1v1h-1zM673 366h1v1h-1zM673 367h1v1h-1zM673 368h1v1h-1zM673 371h1v1h-1zM673 372h1v1h-1zM674 362h1v1h-1zM674 365h1v1h-1zM674 367h1v1h-1zM674 368h1v1h-1zM674 371h1v1h-1zM674 372h1v1h-1zM675 363h1v1h-1zM675 364h1v1h-1zM675 369h1v1h-1zM675 370h1v1h-1zM676 363h1v1h-1zM676 364h1v1h-1zM676 369h1v1h-1zM676 370h1v1h-1zM677 362h1v1h-1zM677 365h1v1h-1zM677 368h1v1h-1zM677 371h1v1h-1zM678 361h1v1h-1zM678 366h1v1h-1zM678 367h1v1h-1zM678 372h1v1h-1zM679 368h1v1h-1zM679 371h1v1h-1zM680 369h1v1h-1zM680 370h1v1h-1zM681 358h1v1h-1zM681 363h1v1h-1zM681 369h1v1h-1zM681 370h1v1h-1zM682 359h1v1h-1zM682 362h1v1h-1zM682 368h1v1h-1zM682 371h1v1h-1zM683 360h1v1h-1zM683 361h1v1h-1zM683 367h1v1h-1zM683 372h1v1h-1zM684 360h1v1h-1zM684 361h1v1h-1zM685 359h1v1h-1zM685 362h1v1h-1zM686 358h1v1h-1zM686 363h1v1h-1zM687 373h1v1h-1zM687 378h1v1h-1zM688 374h1v1h-1zM688 377h1v1h-1zM689 375h1v1h-1zM689 376h1v1h-1zM690 375h1v1h-1zM690 376h1v1h-1zM690 390h1v1h-1zM690 395h1v1h-1zM691 374h1v1h-1zM691 377h1v1h-1zM691 391h1v1h-1zM691 394h1v1h-1zM692 373h1v1h-1zM692 378h1v1h-1zM692 392h1v1h-1zM692 393h1v1h-1zM693 392h1v1h-1zM693 393h1v1h-1zM694 391h1v1h-1zM694 394h1v1h-1zM695 390h1v1h-1zM695 395h1v1h-1zM699 345h1v1h-1zM699 350h1v1h-1zM700 346h1v1h-1zM700 349h1v1h-1zM701 347h1v1h-1zM701 348h1v1h-1zM702 347h1v1h-1zM702 348h1v1h-1zM703 346h1v1h-1zM703 349h1v1h-1zM703 369h1v1h-1zM703 374h1v1h-1zM704 345h1v1h-1zM704 350h1v1h-1zM704 370h1v1h-1zM704 373h1v1h-1zM705 371h1v1h-1zM705 372h1v1h-1zM706 371h1v1h-1zM706 372h1v1h-1zM707 370h1v1h-1zM707 373h1v1h-1zM708 364h1v1h-1zM708 369h1v1h-1zM708 374h1v1h-1zM709 365h1v1h-1zM709 368h1v1h-1zM710 366h1v1h-1zM710 367h1v1h-1zM711 366h1v1h-1zM711 367h1v1h-1zM712 365h1v1h-1zM712 368h1v1h-1zM713 364h1v1h-1zM713 369h1v1h-1zM715 390h1v1h-1zM715 395h1v1h-1zM716 391h1v1h-1zM716 394h1v1h-1zM717 392h1v1h-1zM717 393h1v1h-1zM718 392h1v1h-1zM718 393h1v1h-1zM719 391h1v1h-1zM719 394h1v1h-1zM720 390h1v1h-1zM720 395h1v1h-1zM727 379h1v1h-1zM727 384h1v1h-1zM728 380h1v1h-1zM728 383h1v1h-1zM729 381h1v1h-1zM729 382h1v1h-1zM730 381h1v1h-1zM730 382h1v1h-1zM731 380h1v1h-1zM731 383h1v1h-1zM732 379h1v1h-1zM732 384h1v1h-1z" fill="#00f" shape-rendering="crispEdges"/>
<path d="M516.5 389.5H522.5L524.5 392V397L522.5 399.5H516.5L514.5 397V392Z" fill="none" stroke="#f00" stroke-width="1" shape-rendering="crispEdges"/>
<path d="M85 68h680v1h-680zM85 611h680v1h-680zM85 68h1v544h-1zM764 68h1v544h-1zM126 68h1v5h-1zM126 607h1v5h-1zM150 68h1v5h-1zM150 607h1v5h-1zM167 68h1v5h-1zM167 607h1v5h-1zM180 68h1v5h-1zM180 607h1v5h-1zM191 68h1v5h-1zM191 607h1v5h-1zM200 68h1v5h-1zM200 607h1v5h-1zM208 68h1v5h-1zM208 607h1v5h-1zM215 68h1v5h-1zM215 607h1v5h-1zM221 68h1v9h-1zM221 603h1v9h-1zM262 68h1v5h-1zM262 607h1v5h-1zM286 68h1v5h-1zM286 607h1v5h-1zM303 68h1v5h-1zM303 607h1v5h-1zM316 68h1v5h-1zM316 607h1v5h-1zM327 68h1v5h-1zM327 607h1v5h-1zM336 68h1v5h-1zM336 607h1v5h-1zM344 68h1v5h-1zM344 607h1v5h-1zM350 68h1v5h-1zM350 607h1v5h-1zM357 68h1v9h-1zM357 603h1v9h-1zM398 68h1v5h-1zM398 607h1v5h-1zM421 68h1v5h-1zM421 607h1v5h-1zM438 68h1v5h-1zM438 607h1v5h-1zM452 68h1v5h-1zM452 607h1v5h-1zM462 68h1v5h-1zM462 607h1v5h-1zM471 68h1v5h-1zM471 607h1v5h-1zM479 68h1v5h-1zM479 607h1v5h-1zM486 68h1v5h-1zM486 607h1v5h-1zM493 68h1v9h-1zM493 603h1v9h-1zM533 68h1v5h-1zM533 607h1v5h-1zM557 68h1v5h-1zM557 607h1v5h-1zM574 68h1v5h-1zM574 607h1v5h-1zM587 68h1v5h-1zM587 607h1v5h-1zM598 68h1v5h-1zM598 607h1v5h-1zM607 68h1v5h-1zM607 607h1v5h-1zM615 68h1v5h-1zM615 607h1v5h-1zM622 68h1v5h-1zM622 607h1v5h-1zM628 68h1v9h-1zM628 603h1v9h-1zM669 68h1v5h-1zM669 607h1v5h-1zM693 68h1v5h-1zM693 607h1v5h-1zM710 68h1v5h-1zM710 607h1v5h-1zM723 68h1v5h-1zM723 607h1v5h-1zM734 68h1v5h-1zM734 607h1v5h-1zM743 68h1v5h-1zM743 607h1v5h-1zM751 68h1v5h-1zM751 607h1v5h-1zM758 68h1v5h-1zM758 607h1v5h-1zM85 545h5v1h-5zM760 545h5v1h-5zM85 506h5v1h-5zM760 506h5v1h-5zM85 479h5v1h-5zM760 479h5v1h-5zM85 458h5v1h-5zM760 458h5v1h-5zM85 440h5v1h-5zM760 440h5v1h-5zM85 426h5v1h-5zM760 426h5v1h-5zM85 413h5v1h-5zM760 413h5v1h-5zM85 402h5v1h-5zM760 402h5v1h-5zM85 392h9v1h-9zM756 392h9v1h-9zM85 326h5v1h-5zM760 326h5v1h-5zM85 287h5v1h-5zM760 287h5v1h-5zM85 260h5v1h-5zM760 260h5v1h-5zM85 239h5v1h-5zM760 239h5v1h-5zM85 221h5v1h-5zM760 221h5v1h-5zM85 206h5v1h-5zM760 206h5v1h-5zM85 194h5v1h-5zM760 194h5v1h-5zM85 183h5v1h-5zM760 183h5v1h-5zM85 173h9v1h-9zM756 173h9v1h-9zM85 107h5v1h-5zM760 107h5v1h-5z" fill="#000" shape-rendering="crispEdges"/>
<text x="86.2 92.2 102.5 112.9 123.4 133.2 144.5 149.7 159.8 170.0 179.3 188.0 196.6 201.4 211.8 222.4" y="60">t90_hardness.qdp</text>
<text x="68" y="632" textLength="34" lengthAdjust="spacing">0.01</text>
<text x="209" y="632" textLength="23" lengthAdjust="spacing">0.1</text>
<text x="352" y="632">1</text>
<text x="483.5" y="632" textLength="21" lengthAdjust="spacing">10</text>
<text x="614" y="632" textLength="31" lengthAdjust="spacing">100</text>
<text x="745" y="632" textLength="41" lengthAdjust="spacing">1000</text>
<text x="393.0 403.8 414.4 425.2 433.8 439.8 449.7" y="655">T90 [s]</text>
<text x="74" y="625" textLength="23" lengthAdjust="spacing" transform="rotate(-90 74 625)">0.1</text>
<text x="74" y="397.5" transform="rotate(-90 74 397.5)">1</text>
<text x="74" y="183" textLength="21" lengthAdjust="spacing" transform="rotate(-90 74 183)">10</text>
<text x="-467.7 -455.8 -448.8 -438.2 -429.5 -415.0 -403.9 -393.3 -382.0 -374.6 -366.5 -357.7 -347.1 -337.2 -328.9 -317.1 -310.3 -299.7 -290.7 -275.9 -265.4 -254.1 -246.7 -238.6 -229.7 -219.2" y="43" transform="rotate(-90)">S(50<tspan textLength="15.0" lengthAdjust="spacingAndGlyphs">-</tspan>100 keV)/S(25<tspan textLength="15.0" lengthAdjust="spacingAndGlyphs">-</tspan>50 keV)</text>
<text x="557.6 569.0 574.9 578.6 589.0 599.0 609.5 617.1 622.1 632.4 642.7 653.1 663.4 674.1" y="512.5" fill="#f00">Trigger 808625</text>
<text x="557.7 566.8 575.9 588.3 594.1 606.4 617.2 628.4 638.5 646.4 652.9 662.1 671.2 681.1 692.9 700.7 710.0 720.4 726.5 736.2 740.6 750.3 759.9" y="538.5" fill="#00f">BAT GRBs (BAT1 catalog)</text>
<text x="557.8 567.8 577.3 586.9 596.9 609.2 614.5 626.8 638.0 648.4" y="566.5" fill="#aaa">BATSE GRBs</text>
</svg></body></html>
